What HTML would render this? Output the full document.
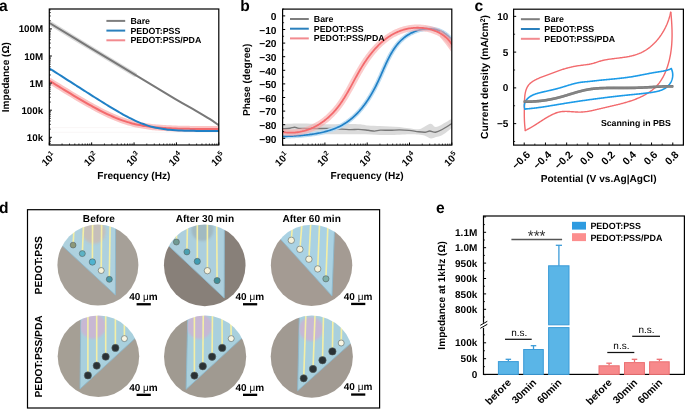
<!DOCTYPE html>
<html><head><meta charset="utf-8"><style>
html,body{margin:0;padding:0;background:#fff;}
svg{display:block;will-change:transform;}
text{font-family:"Liberation Sans",sans-serif;text-rendering:geometricPrecision;}
</style></head><body>
<svg width="685" height="409" viewBox="0 0 685 409">
<defs><filter id="blr" x="-50%" y="-50%" width="200%" height="200%"><feGaussianBlur stdDeviation="0.9"/></filter><filter id="blr1" x="-20%" y="-20%" width="140%" height="140%"><feGaussianBlur stdDeviation="0.4"/></filter><clipPath id="cl0"><circle cx="97.9" cy="265.0" r="40.5"/></clipPath><clipPath id="pr0"><polygon points="52.40,236.61 115.40,294.98 115.60,219.50 52.40,219.50"/></clipPath><clipPath id="cl1"><circle cx="204.75" cy="265.35" r="40.8"/></clipPath><clipPath id="pr1"><polygon points="158.95,236.68 224.20,297.94 224.40,219.55 158.95,219.55"/></clipPath><clipPath id="cl2"><circle cx="311.55" cy="265.35" r="40.7"/></clipPath><clipPath id="pr2"><polygon points="265.85,223.02 332.00,296.00 334.91,219.65 265.85,219.65"/></clipPath><clipPath id="cl3"><circle cx="98.45" cy="356.25" r="40.75"/></clipPath><clipPath id="pr3"><polygon points="80.89,310.50 144.20,310.50 144.20,329.97 79.99,388.94"/></clipPath><clipPath id="cl4"><circle cx="205.1" cy="356.6" r="41.1"/></clipPath><clipPath id="pr4"><polygon points="187.89,310.50 251.20,310.50 251.20,329.58 186.10,389.30"/></clipPath><clipPath id="cl5"><circle cx="311.8" cy="356.6" r="41.1"/></clipPath><clipPath id="pr5"><polygon points="299.39,310.50 357.90,310.50 357.90,336.92 297.64,390.78"/></clipPath><clipPath id="cpa"><rect x="49.3" y="9" width="169.5" height="136"/></clipPath><clipPath id="cpb"><rect x="282.6" y="9.1" width="169.2" height="136.0"/></clipPath><clipPath id="cpc"><rect x="513.6" y="9.2" width="169.8" height="135.9"/></clipPath></defs>
<text x="-1.00" y="10.80" font-size="15.6" text-anchor="start" font-weight="bold" fill="#000" >a</text>
<text x="240.30" y="10.80" font-size="15.6" text-anchor="start" font-weight="bold" fill="#000" >b</text>
<text x="474.40" y="10.80" font-size="15.6" text-anchor="start" font-weight="bold" fill="#000" >c</text>
<text x="-1.00" y="212.60" font-size="15.6" text-anchor="start" font-weight="bold" fill="#000" >d</text>
<text x="435.90" y="212.90" font-size="15.6" text-anchor="start" font-weight="bold" fill="#000" >e</text>
<g clip-path="url(#cpa)">
<line x1="50.00" y1="127.60" x2="218.50" y2="127.60" stroke="#f8f4f4" stroke-width="0.8" />
<line x1="50.00" y1="132.30" x2="218.50" y2="132.30" stroke="#f8f4f4" stroke-width="0.8" />
<path d="M49.50,23.00 C56.25,27.12 75.78,39.10 90.00,47.70 C104.22,56.30 127.33,70.12 134.80,74.60" stroke="#d6d6d6" stroke-width="4.5" fill="none" stroke-linejoin="round" stroke-linecap="round" opacity="0.9"/>
<path d="M49.50,23.00 C56.25,27.10 75.78,39.00 90.00,47.60 C104.22,56.20 120.63,66.07 134.80,74.60 C148.97,83.13 164.80,92.77 175.00,98.80 C185.20,104.83 190.17,107.40 196.00,110.80 C201.83,114.20 206.25,116.83 210.00,119.20 C213.75,121.57 217.08,124.03 218.50,125.00" stroke="#787878" stroke-width="2.0" fill="none" stroke-linejoin="round" stroke-linecap="round" />
<path d="M49.60,80.83 C50.10,81.14 51.60,82.07 52.60,82.69 C53.60,83.31 54.60,83.93 55.60,84.54 C56.60,85.16 57.60,85.78 58.60,86.39 C59.60,87.01 60.60,87.62 61.60,88.24 C62.60,88.85 63.60,89.46 64.60,90.07 C65.60,90.69 66.60,91.30 67.60,91.90 C68.60,92.51 69.60,93.12 70.60,93.72 C71.60,94.33 72.60,94.93 73.60,95.53 C74.60,96.13 75.60,96.73 76.60,97.32 C77.60,97.92 78.60,98.51 79.60,99.10 C80.60,99.69 81.60,100.28 82.60,100.86 C83.60,101.44 84.60,102.02 85.60,102.59 C86.60,103.17 87.60,103.74 88.60,104.31 C89.60,104.87 90.60,105.43 91.60,105.99 C92.60,106.54 93.60,107.09 94.60,107.64 C95.60,108.18 96.60,108.72 97.60,109.25 C98.60,109.78 99.60,110.30 100.60,110.81 C101.60,111.33 102.60,111.84 103.60,112.33 C104.60,112.83 105.60,113.32 106.60,113.80 C107.60,114.27 108.60,114.74 109.60,115.20 C110.60,115.66 111.60,116.10 112.60,116.54 C113.60,116.97 114.60,117.39 115.60,117.80 C116.60,118.21 117.60,118.61 118.60,119.00 C119.60,119.38 120.60,119.75 121.60,120.11 C122.60,120.47 123.60,120.81 124.60,121.14 C125.60,121.47 126.60,121.79 127.60,122.09 C128.60,122.40 129.60,122.68 130.60,122.96 C131.60,123.24 132.60,123.50 133.60,123.75 C134.60,123.99 135.60,124.23 136.60,124.45 C137.60,124.67 138.60,124.88 139.60,125.08 C140.60,125.28 141.60,125.47 142.60,125.64 C143.60,125.82 144.60,125.98 145.60,126.13 C146.60,126.29 147.60,126.43 148.60,126.56 C149.60,126.70 150.60,126.82 151.60,126.94 C152.60,127.06 153.60,127.16 154.60,127.26 C155.60,127.37 156.60,127.46 157.60,127.54 C158.60,127.63 159.60,127.71 160.60,127.79 C161.60,127.86 162.60,127.93 163.60,127.99 C164.60,128.06 165.60,128.11 166.60,128.17 C167.60,128.22 168.60,128.27 169.60,128.32 C170.60,128.36 171.60,128.41 172.60,128.44 C173.60,128.48 174.60,128.52 175.60,128.55 C176.60,128.59 177.60,128.62 178.60,128.64 C179.60,128.67 180.60,128.70 181.60,128.72 C182.60,128.74 183.60,128.77 184.60,128.79 C185.60,128.81 186.60,128.82 187.60,128.84 C188.60,128.86 189.60,128.87 190.60,128.89 C191.60,128.90 192.60,128.91 193.60,128.93 C194.60,128.94 195.60,128.95 196.60,128.96 C197.60,128.97 198.60,128.98 199.60,128.99 C200.60,128.99 201.60,129.00 202.60,129.01 C203.60,129.02 204.60,129.02 205.60,129.03 C206.60,129.03 207.60,129.04 208.60,129.04 C209.60,129.05 210.60,129.05 211.60,129.06 C212.60,129.06 213.60,129.07 214.60,129.07 C215.60,129.07 217.00,129.08 217.60,129.08 C218.20,129.08 218.10,129.08 218.20,129.08" stroke="#fbc4c4" stroke-width="6" fill="none" stroke-linejoin="round" stroke-linecap="round" />
<path d="M49.60,80.83 C50.10,81.14 51.60,82.07 52.60,82.69 C53.60,83.31 54.60,83.93 55.60,84.54 C56.60,85.16 57.60,85.78 58.60,86.39 C59.60,87.01 60.60,87.62 61.60,88.24 C62.60,88.85 63.60,89.46 64.60,90.07 C65.60,90.69 66.60,91.30 67.60,91.90 C68.60,92.51 69.60,93.12 70.60,93.72 C71.60,94.33 72.60,94.93 73.60,95.53 C74.60,96.13 75.60,96.73 76.60,97.32 C77.60,97.92 78.60,98.51 79.60,99.10 C80.60,99.69 81.60,100.28 82.60,100.86 C83.60,101.44 84.60,102.02 85.60,102.59 C86.60,103.17 87.60,103.74 88.60,104.31 C89.60,104.87 90.60,105.43 91.60,105.99 C92.60,106.54 93.60,107.09 94.60,107.64 C95.60,108.18 96.60,108.72 97.60,109.25 C98.60,109.78 99.60,110.30 100.60,110.81 C101.60,111.33 102.60,111.84 103.60,112.33 C104.60,112.83 105.60,113.32 106.60,113.80 C107.60,114.27 108.60,114.74 109.60,115.20 C110.60,115.66 111.60,116.10 112.60,116.54 C113.60,116.97 114.60,117.39 115.60,117.80 C116.60,118.21 117.60,118.61 118.60,119.00 C119.60,119.38 120.60,119.75 121.60,120.11 C122.60,120.47 123.60,120.81 124.60,121.14 C125.60,121.47 126.60,121.79 127.60,122.09 C128.60,122.40 129.60,122.68 130.60,122.96 C131.60,123.24 132.60,123.50 133.60,123.75 C134.60,123.99 135.60,124.23 136.60,124.45 C137.60,124.67 138.60,124.88 139.60,125.08 C140.60,125.28 141.60,125.47 142.60,125.64 C143.60,125.82 144.60,125.98 145.60,126.13 C146.60,126.29 147.60,126.43 148.60,126.56 C149.60,126.70 150.60,126.82 151.60,126.94 C152.60,127.06 153.60,127.16 154.60,127.26 C155.60,127.37 156.60,127.46 157.60,127.54 C158.60,127.63 159.60,127.71 160.60,127.79 C161.60,127.86 162.60,127.93 163.60,127.99 C164.60,128.06 165.60,128.11 166.60,128.17 C167.60,128.22 168.60,128.27 169.60,128.32 C170.60,128.36 171.60,128.41 172.60,128.44 C173.60,128.48 174.60,128.52 175.60,128.55 C176.60,128.59 177.60,128.62 178.60,128.64 C179.60,128.67 180.60,128.70 181.60,128.72 C182.60,128.74 183.60,128.77 184.60,128.79 C185.60,128.81 186.60,128.82 187.60,128.84 C188.60,128.86 189.60,128.87 190.60,128.89 C191.60,128.90 192.60,128.91 193.60,128.93 C194.60,128.94 195.60,128.95 196.60,128.96 C197.60,128.97 198.60,128.98 199.60,128.99 C200.60,128.99 201.60,129.00 202.60,129.01 C203.60,129.02 204.60,129.02 205.60,129.03 C206.60,129.03 207.60,129.04 208.60,129.04 C209.60,129.05 210.60,129.05 211.60,129.06 C212.60,129.06 213.60,129.07 214.60,129.07 C215.60,129.07 217.00,129.08 217.60,129.08 C218.20,129.08 218.10,129.08 218.20,129.08" stroke="#f36a6d" stroke-width="2" fill="none" stroke-linejoin="round" stroke-linecap="round" />
<path d="M49.60,68.51 C50.10,68.83 51.60,69.79 52.60,70.43 C53.60,71.07 54.60,71.71 55.60,72.35 C56.60,72.99 57.60,73.63 58.60,74.27 C59.60,74.92 60.60,75.56 61.60,76.20 C62.60,76.84 63.60,77.48 64.60,78.12 C65.60,78.76 66.60,79.40 67.60,80.04 C68.60,80.68 69.60,81.32 70.60,81.96 C71.60,82.60 72.60,83.24 73.60,83.88 C74.60,84.51 75.60,85.15 76.60,85.79 C77.60,86.43 78.60,87.07 79.60,87.71 C80.60,88.34 81.60,88.98 82.60,89.62 C83.60,90.26 84.60,90.89 85.60,91.53 C86.60,92.17 87.60,92.80 88.60,93.44 C89.60,94.07 90.60,94.70 91.60,95.34 C92.60,95.97 93.60,96.60 94.60,97.23 C95.60,97.86 96.60,98.49 97.60,99.12 C98.60,99.75 99.60,100.38 100.60,101.00 C101.60,101.63 102.60,102.25 103.60,102.87 C104.60,103.49 105.60,104.11 106.60,104.73 C107.60,105.34 108.60,105.96 109.60,106.56 C110.60,107.17 111.60,107.78 112.60,108.38 C113.60,108.98 114.60,109.58 115.60,110.17 C116.60,110.76 117.60,111.35 118.60,111.93 C119.60,112.50 120.60,113.08 121.60,113.64 C122.60,114.21 123.60,114.77 124.60,115.31 C125.60,115.86 126.60,116.40 127.60,116.93 C128.60,117.45 129.60,117.97 130.60,118.47 C131.60,118.98 132.60,119.47 133.60,119.94 C134.60,120.42 135.60,120.88 136.60,121.33 C137.60,121.77 138.60,122.20 139.60,122.62 C140.60,123.03 141.60,123.43 142.60,123.80 C143.60,124.18 144.60,124.54 145.60,124.88 C146.60,125.22 147.60,125.54 148.60,125.84 C149.60,126.14 150.60,126.43 151.60,126.69 C152.60,126.96 153.60,127.20 154.60,127.43 C155.60,127.66 156.60,127.87 157.60,128.07 C158.60,128.27 159.60,128.45 160.60,128.61 C161.60,128.78 162.60,128.93 163.60,129.07 C164.60,129.20 165.60,129.33 166.60,129.44 C167.60,129.56 168.60,129.66 169.60,129.76 C170.60,129.85 171.60,129.93 172.60,130.01 C173.60,130.09 174.60,130.16 175.60,130.22 C176.60,130.28 177.60,130.34 178.60,130.39 C179.60,130.44 180.60,130.48 181.60,130.52 C182.60,130.56 183.60,130.60 184.60,130.63 C185.60,130.66 186.60,130.69 187.60,130.72 C188.60,130.74 189.60,130.76 190.60,130.78 C191.60,130.81 192.60,130.82 193.60,130.84 C194.60,130.86 195.60,130.87 196.60,130.88 C197.60,130.90 198.60,130.91 199.60,130.92 C200.60,130.93 201.60,130.94 202.60,130.95 C203.60,130.95 204.60,130.96 205.60,130.97 C206.60,130.97 207.60,130.98 208.60,130.99 C209.60,130.99 210.60,130.99 211.60,131.00 C212.60,131.00 213.60,131.01 214.60,131.01 C215.60,131.01 217.00,131.02 217.60,131.02 C218.20,131.02 218.10,131.02 218.20,131.02" stroke="#2080c6" stroke-width="2.0" fill="none" stroke-linejoin="round" stroke-linecap="round" />
</g>
<line x1="106.40" y1="20.90" x2="125.20" y2="20.90" stroke="#7e7e7e" stroke-width="2" />
<text x="130.40" y="23.80" font-size="8.8" text-anchor="start" font-weight="bold" fill="#000" >Bare</text>
<line x1="106.40" y1="30.60" x2="125.20" y2="30.60" stroke="#2a80bd" stroke-width="2" />
<text x="130.40" y="33.50" font-size="8.8" text-anchor="start" font-weight="bold" fill="#000" >PEDOT:PSS</text>
<line x1="106.40" y1="40.30" x2="125.20" y2="40.30" stroke="#f28a8f" stroke-width="2" />
<text x="130.40" y="43.20" font-size="8.8" text-anchor="start" font-weight="bold" fill="#000" >PEDOT:PSS/PDA</text>
<rect x="49.3" y="9.0" width="169.5" height="136.0" fill="none" stroke="#000" stroke-width="1.2"/>
<line x1="49.30" y1="145.00" x2="49.30" y2="142.40" stroke="#000" stroke-width="1" />
<line x1="62.06" y1="145.00" x2="62.06" y2="143.50" stroke="#000" stroke-width="0.8" />
<line x1="69.52" y1="145.00" x2="69.52" y2="143.50" stroke="#000" stroke-width="0.8" />
<line x1="74.81" y1="145.00" x2="74.81" y2="143.50" stroke="#000" stroke-width="0.8" />
<line x1="78.92" y1="145.00" x2="78.92" y2="143.50" stroke="#000" stroke-width="0.8" />
<line x1="82.27" y1="145.00" x2="82.27" y2="143.50" stroke="#000" stroke-width="0.8" />
<line x1="85.11" y1="145.00" x2="85.11" y2="143.50" stroke="#000" stroke-width="0.8" />
<line x1="87.57" y1="145.00" x2="87.57" y2="143.50" stroke="#000" stroke-width="0.8" />
<line x1="89.74" y1="145.00" x2="89.74" y2="143.50" stroke="#000" stroke-width="0.8" />
<line x1="91.67" y1="145.00" x2="91.67" y2="142.40" stroke="#000" stroke-width="1" />
<line x1="104.43" y1="145.00" x2="104.43" y2="143.50" stroke="#000" stroke-width="0.8" />
<line x1="111.89" y1="145.00" x2="111.89" y2="143.50" stroke="#000" stroke-width="0.8" />
<line x1="117.19" y1="145.00" x2="117.19" y2="143.50" stroke="#000" stroke-width="0.8" />
<line x1="121.29" y1="145.00" x2="121.29" y2="143.50" stroke="#000" stroke-width="0.8" />
<line x1="124.65" y1="145.00" x2="124.65" y2="143.50" stroke="#000" stroke-width="0.8" />
<line x1="127.49" y1="145.00" x2="127.49" y2="143.50" stroke="#000" stroke-width="0.8" />
<line x1="129.94" y1="145.00" x2="129.94" y2="143.50" stroke="#000" stroke-width="0.8" />
<line x1="132.11" y1="145.00" x2="132.11" y2="143.50" stroke="#000" stroke-width="0.8" />
<line x1="134.05" y1="145.00" x2="134.05" y2="142.40" stroke="#000" stroke-width="1" />
<line x1="146.81" y1="145.00" x2="146.81" y2="143.50" stroke="#000" stroke-width="0.8" />
<line x1="154.27" y1="145.00" x2="154.27" y2="143.50" stroke="#000" stroke-width="0.8" />
<line x1="159.56" y1="145.00" x2="159.56" y2="143.50" stroke="#000" stroke-width="0.8" />
<line x1="163.67" y1="145.00" x2="163.67" y2="143.50" stroke="#000" stroke-width="0.8" />
<line x1="167.02" y1="145.00" x2="167.02" y2="143.50" stroke="#000" stroke-width="0.8" />
<line x1="169.86" y1="145.00" x2="169.86" y2="143.50" stroke="#000" stroke-width="0.8" />
<line x1="172.32" y1="145.00" x2="172.32" y2="143.50" stroke="#000" stroke-width="0.8" />
<line x1="174.49" y1="145.00" x2="174.49" y2="143.50" stroke="#000" stroke-width="0.8" />
<line x1="176.43" y1="145.00" x2="176.43" y2="142.40" stroke="#000" stroke-width="1" />
<line x1="189.18" y1="145.00" x2="189.18" y2="143.50" stroke="#000" stroke-width="0.8" />
<line x1="196.64" y1="145.00" x2="196.64" y2="143.50" stroke="#000" stroke-width="0.8" />
<line x1="201.94" y1="145.00" x2="201.94" y2="143.50" stroke="#000" stroke-width="0.8" />
<line x1="206.04" y1="145.00" x2="206.04" y2="143.50" stroke="#000" stroke-width="0.8" />
<line x1="209.40" y1="145.00" x2="209.40" y2="143.50" stroke="#000" stroke-width="0.8" />
<line x1="212.24" y1="145.00" x2="212.24" y2="143.50" stroke="#000" stroke-width="0.8" />
<line x1="214.69" y1="145.00" x2="214.69" y2="143.50" stroke="#000" stroke-width="0.8" />
<line x1="216.86" y1="145.00" x2="216.86" y2="143.50" stroke="#000" stroke-width="0.8" />
<line x1="218.80" y1="145.00" x2="218.80" y2="142.40" stroke="#000" stroke-width="1" />
<line x1="49.30" y1="143.31" x2="50.80" y2="143.31" stroke="#000" stroke-width="0.8" />
<line x1="49.30" y1="141.50" x2="50.80" y2="141.50" stroke="#000" stroke-width="0.8" />
<line x1="49.30" y1="139.93" x2="50.80" y2="139.93" stroke="#000" stroke-width="0.8" />
<line x1="49.30" y1="138.54" x2="50.80" y2="138.54" stroke="#000" stroke-width="0.8" />
<line x1="49.30" y1="137.30" x2="51.90" y2="137.30" stroke="#000" stroke-width="1" />
<line x1="49.30" y1="129.14" x2="50.80" y2="129.14" stroke="#000" stroke-width="0.8" />
<line x1="49.30" y1="124.37" x2="50.80" y2="124.37" stroke="#000" stroke-width="0.8" />
<line x1="49.30" y1="120.98" x2="50.80" y2="120.98" stroke="#000" stroke-width="0.8" />
<line x1="49.30" y1="118.36" x2="50.80" y2="118.36" stroke="#000" stroke-width="0.8" />
<line x1="49.30" y1="116.21" x2="50.80" y2="116.21" stroke="#000" stroke-width="0.8" />
<line x1="49.30" y1="114.40" x2="50.80" y2="114.40" stroke="#000" stroke-width="0.8" />
<line x1="49.30" y1="112.83" x2="50.80" y2="112.83" stroke="#000" stroke-width="0.8" />
<line x1="49.30" y1="111.44" x2="50.80" y2="111.44" stroke="#000" stroke-width="0.8" />
<line x1="49.30" y1="110.20" x2="51.90" y2="110.20" stroke="#000" stroke-width="1" />
<line x1="49.30" y1="102.04" x2="50.80" y2="102.04" stroke="#000" stroke-width="0.8" />
<line x1="49.30" y1="97.27" x2="50.80" y2="97.27" stroke="#000" stroke-width="0.8" />
<line x1="49.30" y1="93.88" x2="50.80" y2="93.88" stroke="#000" stroke-width="0.8" />
<line x1="49.30" y1="91.26" x2="50.80" y2="91.26" stroke="#000" stroke-width="0.8" />
<line x1="49.30" y1="89.11" x2="50.80" y2="89.11" stroke="#000" stroke-width="0.8" />
<line x1="49.30" y1="87.30" x2="50.80" y2="87.30" stroke="#000" stroke-width="0.8" />
<line x1="49.30" y1="85.73" x2="50.80" y2="85.73" stroke="#000" stroke-width="0.8" />
<line x1="49.30" y1="84.34" x2="50.80" y2="84.34" stroke="#000" stroke-width="0.8" />
<line x1="49.30" y1="83.10" x2="51.90" y2="83.10" stroke="#000" stroke-width="1" />
<line x1="49.30" y1="74.94" x2="50.80" y2="74.94" stroke="#000" stroke-width="0.8" />
<line x1="49.30" y1="70.17" x2="50.80" y2="70.17" stroke="#000" stroke-width="0.8" />
<line x1="49.30" y1="66.78" x2="50.80" y2="66.78" stroke="#000" stroke-width="0.8" />
<line x1="49.30" y1="64.16" x2="50.80" y2="64.16" stroke="#000" stroke-width="0.8" />
<line x1="49.30" y1="62.01" x2="50.80" y2="62.01" stroke="#000" stroke-width="0.8" />
<line x1="49.30" y1="60.20" x2="50.80" y2="60.20" stroke="#000" stroke-width="0.8" />
<line x1="49.30" y1="58.63" x2="50.80" y2="58.63" stroke="#000" stroke-width="0.8" />
<line x1="49.30" y1="57.24" x2="50.80" y2="57.24" stroke="#000" stroke-width="0.8" />
<line x1="49.30" y1="56.00" x2="51.90" y2="56.00" stroke="#000" stroke-width="1" />
<line x1="49.30" y1="47.84" x2="50.80" y2="47.84" stroke="#000" stroke-width="0.8" />
<line x1="49.30" y1="43.07" x2="50.80" y2="43.07" stroke="#000" stroke-width="0.8" />
<line x1="49.30" y1="39.68" x2="50.80" y2="39.68" stroke="#000" stroke-width="0.8" />
<line x1="49.30" y1="37.06" x2="50.80" y2="37.06" stroke="#000" stroke-width="0.8" />
<line x1="49.30" y1="34.91" x2="50.80" y2="34.91" stroke="#000" stroke-width="0.8" />
<line x1="49.30" y1="33.10" x2="50.80" y2="33.10" stroke="#000" stroke-width="0.8" />
<line x1="49.30" y1="31.53" x2="50.80" y2="31.53" stroke="#000" stroke-width="0.8" />
<line x1="49.30" y1="30.14" x2="50.80" y2="30.14" stroke="#000" stroke-width="0.8" />
<line x1="49.30" y1="28.90" x2="51.90" y2="28.90" stroke="#000" stroke-width="1" />
<line x1="49.30" y1="20.74" x2="50.80" y2="20.74" stroke="#000" stroke-width="0.8" />
<line x1="49.30" y1="15.97" x2="50.80" y2="15.97" stroke="#000" stroke-width="0.8" />
<line x1="49.30" y1="12.58" x2="50.80" y2="12.58" stroke="#000" stroke-width="0.8" />
<line x1="49.30" y1="9.96" x2="50.80" y2="9.96" stroke="#000" stroke-width="0.8" />
<text x="43.20" y="140.80" font-size="9.8" text-anchor="end" font-weight="bold" fill="#000" >10k</text>
<text x="43.20" y="113.70" font-size="9.8" text-anchor="end" font-weight="bold" fill="#000" >100k</text>
<text x="43.20" y="86.60" font-size="9.8" text-anchor="end" font-weight="bold" fill="#000" >1M</text>
<text x="43.20" y="59.50" font-size="9.8" text-anchor="end" font-weight="bold" fill="#000" >10M</text>
<text x="43.20" y="32.40" font-size="9.8" text-anchor="end" font-weight="bold" fill="#000" >100M</text>
<text transform="translate(56.30,156.20) rotate(-45)" font-size="10" text-anchor="end" font-weight="bold">10<tspan font-size="7.00" dy="-4">1</tspan></text>
<text transform="translate(98.67,156.20) rotate(-45)" font-size="10" text-anchor="end" font-weight="bold">10<tspan font-size="7.00" dy="-4">2</tspan></text>
<text transform="translate(141.05,156.20) rotate(-45)" font-size="10" text-anchor="end" font-weight="bold">10<tspan font-size="7.00" dy="-4">3</tspan></text>
<text transform="translate(183.43,156.20) rotate(-45)" font-size="10" text-anchor="end" font-weight="bold">10<tspan font-size="7.00" dy="-4">4</tspan></text>
<text transform="translate(225.80,156.20) rotate(-45)" font-size="10" text-anchor="end" font-weight="bold">10<tspan font-size="7.00" dy="-4">5</tspan></text>
<text x="133.90" y="179.40" font-size="10.15" text-anchor="middle" font-weight="bold" fill="#000" >Frequency (Hz)</text>
<text transform="translate(8.9,77.2) rotate(-90)" font-size="10.05" text-anchor="middle" font-weight="bold">Impedance (Ω)</text>
<g clip-path="url(#cpb)">
<path d="M282.60,124.00 C285.50,123.92 292.10,123.47 300.00,123.50 C307.90,123.53 320.33,124.08 330.00,124.20 C339.67,124.32 351.67,123.98 358.00,124.20 C364.33,124.42 364.33,125.20 368.00,125.50 C371.67,125.80 376.33,125.85 380.00,126.00 C383.67,126.15 386.75,126.23 390.00,126.40 C393.25,126.57 396.33,126.68 399.50,127.00 C402.67,127.32 405.83,127.92 409.00,128.30 C412.17,128.68 416.00,129.52 418.50,129.30 C421.00,129.08 421.95,127.92 424.00,127.00 C426.05,126.08 428.88,123.80 430.80,123.80 C432.72,123.80 433.63,126.88 435.50,127.00 C437.37,127.12 439.28,125.87 442.00,124.50 C444.72,123.13 450.17,119.75 451.80,118.80 L451.8,128 451.80,128.00 C450.17,129.22 444.63,133.80 442.00,135.30 C439.37,136.80 437.87,136.47 436.00,137.00 C434.13,137.53 432.63,138.70 430.80,138.50 C428.97,138.30 427.05,136.45 425.00,135.80 C422.95,135.15 421.17,134.87 418.50,134.60 C415.83,134.33 413.75,134.13 409.00,134.20 C404.25,134.27 394.83,134.87 390.00,135.00 C385.17,135.13 385.00,135.12 380.00,135.00 C375.00,134.88 368.33,134.43 360.00,134.30 C351.67,134.17 340.00,134.25 330.00,134.20 C320.00,134.15 307.90,134.03 300.00,134.00 C292.10,133.97 285.50,134.00 282.60,134.00 Z" fill="#d9d9d9" opacity="0.95"/>
<path d="M282.60,128.80 C283.83,128.70 287.98,128.47 290.00,128.20 C292.02,127.93 293.20,127.17 294.70,127.20 C296.20,127.23 296.45,128.18 299.00,128.40 C301.55,128.62 304.83,128.48 310.00,128.50 C315.17,128.52 323.50,128.32 330.00,128.50 C336.50,128.68 344.25,129.45 349.00,129.60 C353.75,129.75 355.33,129.28 358.50,129.40 C361.67,129.52 365.32,130.02 368.00,130.30 C370.68,130.58 372.55,131.13 374.60,131.10 C376.65,131.07 377.73,130.23 380.30,130.10 C382.87,129.97 386.80,130.33 390.00,130.30 C393.20,130.27 396.33,129.88 399.50,129.90 C402.67,129.92 405.83,130.08 409.00,130.40 C412.17,130.72 415.82,131.50 418.50,131.80 C421.18,132.10 423.22,132.33 425.10,132.20 C426.98,132.07 428.07,131.00 429.80,131.00 C431.53,131.00 433.43,132.45 435.50,132.20 C437.57,131.95 439.48,130.95 442.20,129.50 C444.92,128.05 450.20,124.50 451.80,123.50" stroke="#787878" stroke-width="1.4" fill="none" stroke-linejoin="round" stroke-linecap="round" />
<path d="M282.73,136.49 L283.77,136.44 L284.83,136.40 L285.89,136.35 L286.96,136.31 L288.04,136.26 L289.12,136.21 L290.21,136.16 L291.30,136.10 L292.40,136.04 L293.51,135.98 L294.62,135.92 L295.74,135.85 L296.86,135.77 L297.98,135.70 L299.10,135.61 L300.23,135.53 L301.36,135.43 L302.50,135.33 L303.63,135.23 L304.77,135.12 L305.91,135.00 L307.04,134.88 L308.18,134.74 L309.32,134.61 L310.46,134.46 L311.59,134.30 L312.73,134.14 L313.86,133.97 L315.00,133.78 L316.13,133.59 L317.25,133.39 L318.38,133.18 L319.50,132.96 L320.61,132.73 L321.73,132.49 L322.83,132.23 L323.94,131.97 L325.03,131.69 L326.13,131.40 L327.21,131.10 L328.29,130.79 L329.36,130.46 L330.43,130.12 L331.49,129.76 L332.54,129.40 L333.58,129.01 L334.61,128.62 L335.63,128.20 L336.65,127.78 L337.65,127.33 L338.65,126.88 L339.63,126.40 L340.60,125.91 L341.56,125.40 L342.51,124.88 L343.45,124.34 L344.38,123.78 L345.29,123.20 L346.20,122.61 L347.09,122.01 L347.97,121.38 L348.84,120.75 L349.70,120.10 L350.55,119.43 L351.39,118.75 L352.22,118.05 L353.04,117.34 L353.84,116.62 L354.64,115.88 L355.43,115.13 L356.20,114.37 L356.97,113.59 L357.73,112.81 L358.48,112.01 L359.22,111.20 L359.94,110.37 L360.66,109.54 L361.37,108.69 L362.08,107.84 L362.77,106.97 L363.45,106.09 L364.13,105.21 L364.79,104.31 L365.45,103.40 L366.10,102.49 L366.74,101.57 L367.37,100.63 L368.00,99.69 L368.61,98.74 L369.22,97.79 L369.82,96.82 L370.41,95.85 L371.00,94.87 L371.58,93.88 L372.15,92.89 L372.71,91.89 L373.27,90.89 L373.82,89.88 L374.36,88.86 L374.90,87.84 L375.43,86.81 L375.95,85.78 L376.46,84.75 L376.97,83.71 L377.48,82.67 L377.98,81.62 L378.47,80.57 L378.95,79.52 L379.44,78.46 L379.91,77.40 L380.39,76.35 L380.86,75.29 L381.33,74.23 L381.79,73.17 L382.26,72.11 L382.72,71.05 L383.19,69.99 L383.65,68.94 L384.12,67.89 L384.58,66.84 L385.05,65.80 L385.53,64.75 L386.00,63.72 L386.48,62.69 L386.97,61.66 L387.46,60.64 L387.95,59.63 L388.45,58.62 L388.96,57.63 L389.48,56.63 L390.00,55.65 L390.53,54.68 L391.07,53.72 L391.62,52.76 L392.18,51.82 L392.76,50.89 L393.34,49.97 L393.93,49.06 L394.54,48.16 L395.16,47.28 L395.80,46.41 L396.45,45.56 L397.11,44.71 L397.79,43.89 L398.49,43.08 L399.20,42.28 L399.93,41.50 L400.68,40.74 L401.44,40.00 L402.23,39.27 L403.03,38.56 L403.86,37.87 L404.70,37.20 L405.57,36.55 L406.46,35.92 L407.36,35.32 L408.29,34.73 L409.24,34.16 L410.21,33.62 L411.19,33.11 L412.19,32.62 L413.20,32.15 L414.23,31.71 L415.26,31.30 L416.31,30.91 L417.38,30.56 L418.45,30.23 L419.52,29.93 L420.61,29.67 L421.70,29.43 L422.80,29.23 L423.90,29.06 L425.00,28.93 L426.11,28.83 L427.21,28.77 L428.32,28.74 L429.43,28.75 L430.53,28.79 L431.63,28.88 L432.73,29.00 L433.82,29.17 L434.90,29.37 L435.97,29.62 L437.04,29.91 L438.10,30.24 L439.15,30.62 L440.18,31.04 L441.20,31.51 L442.21,32.02 L443.21,32.58 L444.18,33.18 L445.14,33.84 L446.09,34.54 L447.01,35.30 L447.91,36.10 L448.80,36.96 L449.66,37.87 L450.49,38.83 L451.30,39.84" stroke="#bcdcf2" stroke-width="4.5" fill="none" stroke-linejoin="round" stroke-linecap="round" />
<path d="M282.73,136.49 L283.77,136.44 L284.83,136.40 L285.89,136.35 L286.96,136.31 L288.04,136.26 L289.12,136.21 L290.21,136.16 L291.30,136.10 L292.40,136.04 L293.51,135.98 L294.62,135.92 L295.74,135.85 L296.86,135.77 L297.98,135.70 L299.10,135.61 L300.23,135.53 L301.36,135.43 L302.50,135.33 L303.63,135.23 L304.77,135.12 L305.91,135.00 L307.04,134.88 L308.18,134.74 L309.32,134.61 L310.46,134.46 L311.59,134.30 L312.73,134.14 L313.86,133.97 L315.00,133.78 L316.13,133.59 L317.25,133.39 L318.38,133.18 L319.50,132.96 L320.61,132.73 L321.73,132.49 L322.83,132.23 L323.94,131.97 L325.03,131.69 L326.13,131.40 L327.21,131.10 L328.29,130.79 L329.36,130.46 L330.43,130.12 L331.49,129.76 L332.54,129.40 L333.58,129.01 L334.61,128.62 L335.63,128.20 L336.65,127.78 L337.65,127.33 L338.65,126.88 L339.63,126.40 L340.60,125.91 L341.56,125.40 L342.51,124.88 L343.45,124.34 L344.38,123.78 L345.29,123.20 L346.20,122.61 L347.09,122.01 L347.97,121.38 L348.84,120.75 L349.70,120.10 L350.55,119.43 L351.39,118.75 L352.22,118.05 L353.04,117.34 L353.84,116.62 L354.64,115.88 L355.43,115.13 L356.20,114.37 L356.97,113.59 L357.73,112.81 L358.48,112.01 L359.22,111.20 L359.94,110.37 L360.66,109.54 L361.37,108.69 L362.08,107.84 L362.77,106.97 L363.45,106.09 L364.13,105.21 L364.79,104.31 L365.45,103.40 L366.10,102.49 L366.74,101.57 L367.37,100.63 L368.00,99.69 L368.61,98.74 L369.22,97.79 L369.82,96.82 L370.41,95.85 L371.00,94.87 L371.58,93.88 L372.15,92.89 L372.71,91.89 L373.27,90.89 L373.82,89.88 L374.36,88.86 L374.90,87.84 L375.43,86.81 L375.95,85.78 L376.46,84.75 L376.97,83.71 L377.48,82.67 L377.98,81.62 L378.47,80.57 L378.95,79.52 L379.44,78.46 L379.91,77.40 L380.39,76.35 L380.86,75.29 L381.33,74.23 L381.79,73.17 L382.26,72.11 L382.72,71.05 L383.19,69.99 L383.65,68.94 L384.12,67.89 L384.58,66.84 L385.05,65.80 L385.53,64.75 L386.00,63.72 L386.48,62.69 L386.97,61.66 L387.46,60.64 L387.95,59.63 L388.45,58.62 L388.96,57.63 L389.48,56.63 L390.00,55.65 L390.53,54.68 L391.07,53.72 L391.62,52.76 L392.18,51.82 L392.76,50.89 L393.34,49.97 L393.93,49.06 L394.54,48.16 L395.16,47.28 L395.80,46.41 L396.45,45.56 L397.11,44.71 L397.79,43.89 L398.49,43.08 L399.20,42.28 L399.93,41.50 L400.68,40.74 L401.44,40.00 L402.23,39.27 L403.03,38.56 L403.86,37.87 L404.70,37.20 L405.57,36.55 L406.46,35.92 L407.36,35.32 L408.29,34.73 L409.24,34.16 L410.21,33.62 L411.19,33.11 L412.19,32.62 L413.20,32.15 L414.23,31.71 L415.26,31.30 L416.31,30.91 L417.38,30.56 L418.45,30.23 L419.52,29.93 L420.61,29.67 L421.70,29.43 L422.80,29.23 L423.90,29.06 L425.00,28.93 L426.11,28.83 L427.21,28.77 L428.32,28.74 L429.43,28.75 L430.53,28.79 L431.63,28.88 L432.73,29.00 L433.82,29.17 L434.90,29.37 L435.97,29.62 L437.04,29.91 L438.10,30.24 L439.15,30.62 L440.18,31.04 L441.20,31.51 L442.21,32.02 L443.21,32.58 L444.18,33.18 L445.14,33.84 L446.09,34.54 L447.01,35.30 L447.91,36.10 L448.80,36.96 L449.66,37.87 L450.49,38.83 L451.30,39.84" stroke="#2080c6" stroke-width="1.7" fill="none" stroke-linejoin="round" stroke-linecap="round" />
<path d="M282.36,131.95 L283.55,132.14 L284.75,132.30 L285.94,132.43 L287.12,132.53 L288.29,132.61 L289.46,132.65 L290.62,132.67 L291.78,132.67 L292.93,132.63 L294.07,132.57 L295.20,132.49 L296.33,132.38 L297.45,132.24 L298.57,132.08 L299.67,131.90 L300.77,131.69 L301.86,131.46 L302.95,131.20 L304.02,130.93 L305.09,130.63 L306.15,130.30 L307.20,129.96 L308.24,129.60 L309.27,129.21 L310.30,128.80 L311.32,128.38 L312.32,127.93 L313.32,127.47 L314.31,126.98 L315.29,126.48 L316.26,125.96 L317.22,125.42 L318.17,124.86 L319.12,124.29 L320.05,123.70 L320.97,123.09 L321.88,122.47 L322.78,121.83 L323.68,121.18 L324.56,120.51 L325.43,119.83 L326.29,119.13 L327.13,118.42 L327.97,117.70 L328.80,116.96 L329.62,116.21 L330.42,115.45 L331.21,114.67 L331.99,113.89 L332.76,113.09 L333.52,112.28 L334.27,111.46 L335.00,110.64 L335.72,109.80 L336.43,108.95 L337.13,108.10 L337.82,107.23 L338.49,106.36 L339.15,105.48 L339.81,104.59 L340.45,103.69 L341.08,102.79 L341.71,101.88 L342.33,100.96 L342.93,100.04 L343.53,99.11 L344.13,98.17 L344.71,97.23 L345.29,96.28 L345.87,95.33 L346.43,94.37 L347.00,93.41 L347.56,92.45 L348.11,91.48 L348.66,90.51 L349.21,89.53 L349.75,88.56 L350.29,87.58 L350.83,86.59 L351.37,85.61 L351.90,84.62 L352.44,83.63 L352.98,82.64 L353.51,81.65 L354.05,80.66 L354.58,79.67 L355.12,78.68 L355.66,77.68 L356.21,76.69 L356.75,75.70 L357.30,74.71 L357.85,73.72 L358.41,72.74 L358.97,71.75 L359.53,70.77 L360.10,69.79 L360.68,68.81 L361.26,67.84 L361.85,66.87 L362.45,65.90 L363.05,64.94 L363.66,63.98 L364.28,63.02 L364.91,62.08 L365.54,61.13 L366.18,60.19 L366.83,59.26 L367.49,58.34 L368.15,57.42 L368.82,56.51 L369.50,55.60 L370.19,54.71 L370.89,53.82 L371.59,52.94 L372.30,52.07 L373.02,51.21 L373.75,50.36 L374.48,49.51 L375.23,48.68 L375.98,47.86 L376.74,47.05 L377.51,46.26 L378.29,45.47 L379.08,44.70 L379.87,43.93 L380.68,43.19 L381.49,42.45 L382.31,41.73 L383.14,41.02 L383.98,40.33 L384.83,39.65 L385.69,38.99 L386.55,38.34 L387.43,37.70 L388.31,37.09 L389.21,36.49 L390.11,35.90 L391.02,35.34 L391.94,34.79 L392.88,34.26 L393.82,33.74 L394.77,33.25 L395.73,32.77 L396.70,32.32 L397.68,31.88 L398.67,31.47 L399.67,31.07 L400.68,30.69 L401.70,30.34 L402.73,30.01 L403.77,29.70 L404.82,29.41 L405.88,29.14 L406.95,28.90 L408.03,28.67 L409.12,28.48 L410.22,28.30 L411.33,28.16 L412.45,28.03 L413.58,27.93 L414.71,27.85 L415.84,27.80 L416.98,27.77 L418.13,27.77 L419.27,27.79 L420.42,27.84 L421.56,27.91 L422.70,28.01 L423.84,28.14 L424.98,28.29 L426.12,28.46 L427.24,28.67 L428.36,28.90 L429.48,29.15 L430.58,29.43 L431.68,29.74 L432.77,30.08 L433.84,30.44 L434.90,30.83 L435.95,31.24 L436.98,31.69 L438.00,32.16 L439.00,32.66 L439.98,33.19 L440.94,33.75 L441.89,34.33 L442.81,34.94 L443.71,35.58 L444.59,36.25 L445.44,36.95 L446.27,37.68 L447.08,38.44 L447.85,39.23 L448.60,40.04 L449.32,40.89 L450.01,41.76 L450.67,42.67 L451.29,43.61 L451.89,44.57" stroke="#f9a9a9" stroke-width="6.5" fill="none" stroke-linejoin="round" stroke-linecap="round" opacity="0.6"/>
<path d="M440,30 Q447,36 451.5,39 L451.5,52 Q446,44 440,37 Z" fill="#f9a9a9" opacity="0.6"/>
<path d="M282.36,131.95 L283.55,132.14 L284.75,132.30 L285.94,132.43 L287.12,132.53 L288.29,132.61 L289.46,132.65 L290.62,132.67 L291.78,132.67 L292.93,132.63 L294.07,132.57 L295.20,132.49 L296.33,132.38 L297.45,132.24 L298.57,132.08 L299.67,131.90 L300.77,131.69 L301.86,131.46 L302.95,131.20 L304.02,130.93 L305.09,130.63 L306.15,130.30 L307.20,129.96 L308.24,129.60 L309.27,129.21 L310.30,128.80 L311.32,128.38 L312.32,127.93 L313.32,127.47 L314.31,126.98 L315.29,126.48 L316.26,125.96 L317.22,125.42 L318.17,124.86 L319.12,124.29 L320.05,123.70 L320.97,123.09 L321.88,122.47 L322.78,121.83 L323.68,121.18 L324.56,120.51 L325.43,119.83 L326.29,119.13 L327.13,118.42 L327.97,117.70 L328.80,116.96 L329.62,116.21 L330.42,115.45 L331.21,114.67 L331.99,113.89 L332.76,113.09 L333.52,112.28 L334.27,111.46 L335.00,110.64 L335.72,109.80 L336.43,108.95 L337.13,108.10 L337.82,107.23 L338.49,106.36 L339.15,105.48 L339.81,104.59 L340.45,103.69 L341.08,102.79 L341.71,101.88 L342.33,100.96 L342.93,100.04 L343.53,99.11 L344.13,98.17 L344.71,97.23 L345.29,96.28 L345.87,95.33 L346.43,94.37 L347.00,93.41 L347.56,92.45 L348.11,91.48 L348.66,90.51 L349.21,89.53 L349.75,88.56 L350.29,87.58 L350.83,86.59 L351.37,85.61 L351.90,84.62 L352.44,83.63 L352.98,82.64 L353.51,81.65 L354.05,80.66 L354.58,79.67 L355.12,78.68 L355.66,77.68 L356.21,76.69 L356.75,75.70 L357.30,74.71 L357.85,73.72 L358.41,72.74 L358.97,71.75 L359.53,70.77 L360.10,69.79 L360.68,68.81 L361.26,67.84 L361.85,66.87 L362.45,65.90 L363.05,64.94 L363.66,63.98 L364.28,63.02 L364.91,62.08 L365.54,61.13 L366.18,60.19 L366.83,59.26 L367.49,58.34 L368.15,57.42 L368.82,56.51 L369.50,55.60 L370.19,54.71 L370.89,53.82 L371.59,52.94 L372.30,52.07 L373.02,51.21 L373.75,50.36 L374.48,49.51 L375.23,48.68 L375.98,47.86 L376.74,47.05 L377.51,46.26 L378.29,45.47 L379.08,44.70 L379.87,43.93 L380.68,43.19 L381.49,42.45 L382.31,41.73 L383.14,41.02 L383.98,40.33 L384.83,39.65 L385.69,38.99 L386.55,38.34 L387.43,37.70 L388.31,37.09 L389.21,36.49 L390.11,35.90 L391.02,35.34 L391.94,34.79 L392.88,34.26 L393.82,33.74 L394.77,33.25 L395.73,32.77 L396.70,32.32 L397.68,31.88 L398.67,31.47 L399.67,31.07 L400.68,30.69 L401.70,30.34 L402.73,30.01 L403.77,29.70 L404.82,29.41 L405.88,29.14 L406.95,28.90 L408.03,28.67 L409.12,28.48 L410.22,28.30 L411.33,28.16 L412.45,28.03 L413.58,27.93 L414.71,27.85 L415.84,27.80 L416.98,27.77 L418.13,27.77 L419.27,27.79 L420.42,27.84 L421.56,27.91 L422.70,28.01 L423.84,28.14 L424.98,28.29 L426.12,28.46 L427.24,28.67 L428.36,28.90 L429.48,29.15 L430.58,29.43 L431.68,29.74 L432.77,30.08 L433.84,30.44 L434.90,30.83 L435.95,31.24 L436.98,31.69 L438.00,32.16 L439.00,32.66 L439.98,33.19 L440.94,33.75 L441.89,34.33 L442.81,34.94 L443.71,35.58 L444.59,36.25 L445.44,36.95 L446.27,37.68 L447.08,38.44 L447.85,39.23 L448.60,40.04 L449.32,40.89 L450.01,41.76 L450.67,42.67 L451.29,43.61 L451.89,44.57" stroke="#f36a6d" stroke-width="1.8" fill="none" stroke-linejoin="round" stroke-linecap="round" />
</g>
<line x1="290.00" y1="19.00" x2="308.80" y2="19.00" stroke="#7e7e7e" stroke-width="2" />
<text x="313.80" y="22.00" font-size="8.8" text-anchor="start" font-weight="bold" fill="#000" >Bare</text>
<line x1="290.00" y1="28.70" x2="308.80" y2="28.70" stroke="#2a80bd" stroke-width="2" />
<text x="313.80" y="31.70" font-size="8.8" text-anchor="start" font-weight="bold" fill="#000" >PEDOT:PSS</text>
<line x1="290.00" y1="38.40" x2="308.80" y2="38.40" stroke="#f28a8f" stroke-width="2" />
<text x="313.80" y="41.40" font-size="8.8" text-anchor="start" font-weight="bold" fill="#000" >PEDOT:PSS/PDA</text>
<rect x="282.6" y="9.1" width="169.2" height="136.0" fill="none" stroke="#000" stroke-width="1.2"/>
<line x1="282.60" y1="145.10" x2="282.60" y2="142.50" stroke="#000" stroke-width="1" />
<line x1="295.33" y1="145.10" x2="295.33" y2="143.60" stroke="#000" stroke-width="0.8" />
<line x1="302.78" y1="145.10" x2="302.78" y2="143.60" stroke="#000" stroke-width="0.8" />
<line x1="308.07" y1="145.10" x2="308.07" y2="143.60" stroke="#000" stroke-width="0.8" />
<line x1="312.17" y1="145.10" x2="312.17" y2="143.60" stroke="#000" stroke-width="0.8" />
<line x1="315.52" y1="145.10" x2="315.52" y2="143.60" stroke="#000" stroke-width="0.8" />
<line x1="318.35" y1="145.10" x2="318.35" y2="143.60" stroke="#000" stroke-width="0.8" />
<line x1="320.80" y1="145.10" x2="320.80" y2="143.60" stroke="#000" stroke-width="0.8" />
<line x1="322.96" y1="145.10" x2="322.96" y2="143.60" stroke="#000" stroke-width="0.8" />
<line x1="324.90" y1="145.10" x2="324.90" y2="142.50" stroke="#000" stroke-width="1" />
<line x1="337.63" y1="145.10" x2="337.63" y2="143.60" stroke="#000" stroke-width="0.8" />
<line x1="345.08" y1="145.10" x2="345.08" y2="143.60" stroke="#000" stroke-width="0.8" />
<line x1="350.37" y1="145.10" x2="350.37" y2="143.60" stroke="#000" stroke-width="0.8" />
<line x1="354.47" y1="145.10" x2="354.47" y2="143.60" stroke="#000" stroke-width="0.8" />
<line x1="357.82" y1="145.10" x2="357.82" y2="143.60" stroke="#000" stroke-width="0.8" />
<line x1="360.65" y1="145.10" x2="360.65" y2="143.60" stroke="#000" stroke-width="0.8" />
<line x1="363.10" y1="145.10" x2="363.10" y2="143.60" stroke="#000" stroke-width="0.8" />
<line x1="365.26" y1="145.10" x2="365.26" y2="143.60" stroke="#000" stroke-width="0.8" />
<line x1="367.20" y1="145.10" x2="367.20" y2="142.50" stroke="#000" stroke-width="1" />
<line x1="379.93" y1="145.10" x2="379.93" y2="143.60" stroke="#000" stroke-width="0.8" />
<line x1="387.38" y1="145.10" x2="387.38" y2="143.60" stroke="#000" stroke-width="0.8" />
<line x1="392.67" y1="145.10" x2="392.67" y2="143.60" stroke="#000" stroke-width="0.8" />
<line x1="396.77" y1="145.10" x2="396.77" y2="143.60" stroke="#000" stroke-width="0.8" />
<line x1="400.12" y1="145.10" x2="400.12" y2="143.60" stroke="#000" stroke-width="0.8" />
<line x1="402.95" y1="145.10" x2="402.95" y2="143.60" stroke="#000" stroke-width="0.8" />
<line x1="405.40" y1="145.10" x2="405.40" y2="143.60" stroke="#000" stroke-width="0.8" />
<line x1="407.56" y1="145.10" x2="407.56" y2="143.60" stroke="#000" stroke-width="0.8" />
<line x1="409.50" y1="145.10" x2="409.50" y2="142.50" stroke="#000" stroke-width="1" />
<line x1="422.23" y1="145.10" x2="422.23" y2="143.60" stroke="#000" stroke-width="0.8" />
<line x1="429.68" y1="145.10" x2="429.68" y2="143.60" stroke="#000" stroke-width="0.8" />
<line x1="434.97" y1="145.10" x2="434.97" y2="143.60" stroke="#000" stroke-width="0.8" />
<line x1="439.07" y1="145.10" x2="439.07" y2="143.60" stroke="#000" stroke-width="0.8" />
<line x1="442.42" y1="145.10" x2="442.42" y2="143.60" stroke="#000" stroke-width="0.8" />
<line x1="445.25" y1="145.10" x2="445.25" y2="143.60" stroke="#000" stroke-width="0.8" />
<line x1="447.70" y1="145.10" x2="447.70" y2="143.60" stroke="#000" stroke-width="0.8" />
<line x1="449.86" y1="145.10" x2="449.86" y2="143.60" stroke="#000" stroke-width="0.8" />
<line x1="451.80" y1="145.10" x2="451.80" y2="142.50" stroke="#000" stroke-width="1" />
<line x1="282.60" y1="145.10" x2="284.10" y2="145.10" stroke="#000" stroke-width="0.8" />
<line x1="282.60" y1="138.30" x2="285.20" y2="138.30" stroke="#000" stroke-width="1" />
<line x1="282.60" y1="131.50" x2="284.10" y2="131.50" stroke="#000" stroke-width="0.8" />
<line x1="282.60" y1="124.70" x2="285.20" y2="124.70" stroke="#000" stroke-width="1" />
<line x1="282.60" y1="117.90" x2="284.10" y2="117.90" stroke="#000" stroke-width="0.8" />
<line x1="282.60" y1="111.10" x2="285.20" y2="111.10" stroke="#000" stroke-width="1" />
<line x1="282.60" y1="104.30" x2="284.10" y2="104.30" stroke="#000" stroke-width="0.8" />
<line x1="282.60" y1="97.50" x2="285.20" y2="97.50" stroke="#000" stroke-width="1" />
<line x1="282.60" y1="90.70" x2="284.10" y2="90.70" stroke="#000" stroke-width="0.8" />
<line x1="282.60" y1="83.90" x2="285.20" y2="83.90" stroke="#000" stroke-width="1" />
<line x1="282.60" y1="77.10" x2="284.10" y2="77.10" stroke="#000" stroke-width="0.8" />
<line x1="282.60" y1="70.30" x2="285.20" y2="70.30" stroke="#000" stroke-width="1" />
<line x1="282.60" y1="63.50" x2="284.10" y2="63.50" stroke="#000" stroke-width="0.8" />
<line x1="282.60" y1="56.70" x2="285.20" y2="56.70" stroke="#000" stroke-width="1" />
<line x1="282.60" y1="49.90" x2="284.10" y2="49.90" stroke="#000" stroke-width="0.8" />
<line x1="282.60" y1="43.10" x2="285.20" y2="43.10" stroke="#000" stroke-width="1" />
<line x1="282.60" y1="36.30" x2="284.10" y2="36.30" stroke="#000" stroke-width="0.8" />
<line x1="282.60" y1="29.50" x2="285.20" y2="29.50" stroke="#000" stroke-width="1" />
<line x1="282.60" y1="22.70" x2="284.10" y2="22.70" stroke="#000" stroke-width="0.8" />
<line x1="282.60" y1="15.90" x2="285.20" y2="15.90" stroke="#000" stroke-width="1" />
<line x1="282.60" y1="9.10" x2="284.10" y2="9.10" stroke="#000" stroke-width="0.8" />
<text x="276.50" y="20.10" font-size="10.2" text-anchor="end" font-weight="bold" fill="#000" >0</text>
<text x="276.50" y="33.70" font-size="10.2" text-anchor="end" font-weight="bold" fill="#000" >−10</text>
<text x="276.50" y="47.30" font-size="10.2" text-anchor="end" font-weight="bold" fill="#000" >−20</text>
<text x="276.50" y="60.90" font-size="10.2" text-anchor="end" font-weight="bold" fill="#000" >−30</text>
<text x="276.50" y="74.50" font-size="10.2" text-anchor="end" font-weight="bold" fill="#000" >−40</text>
<text x="276.50" y="88.10" font-size="10.2" text-anchor="end" font-weight="bold" fill="#000" >−50</text>
<text x="276.50" y="101.70" font-size="10.2" text-anchor="end" font-weight="bold" fill="#000" >−60</text>
<text x="276.50" y="115.30" font-size="10.2" text-anchor="end" font-weight="bold" fill="#000" >−70</text>
<text x="276.50" y="128.90" font-size="10.2" text-anchor="end" font-weight="bold" fill="#000" >−80</text>
<text x="276.50" y="142.50" font-size="10.2" text-anchor="end" font-weight="bold" fill="#000" >−90</text>
<text transform="translate(289.60,156.30) rotate(-45)" font-size="10" text-anchor="end" font-weight="bold">10<tspan font-size="7.00" dy="-4">1</tspan></text>
<text transform="translate(331.90,156.30) rotate(-45)" font-size="10" text-anchor="end" font-weight="bold">10<tspan font-size="7.00" dy="-4">2</tspan></text>
<text transform="translate(374.20,156.30) rotate(-45)" font-size="10" text-anchor="end" font-weight="bold">10<tspan font-size="7.00" dy="-4">3</tspan></text>
<text transform="translate(416.50,156.30) rotate(-45)" font-size="10" text-anchor="end" font-weight="bold">10<tspan font-size="7.00" dy="-4">4</tspan></text>
<text transform="translate(458.80,156.30) rotate(-45)" font-size="10" text-anchor="end" font-weight="bold">10<tspan font-size="7.00" dy="-4">5</tspan></text>
<text x="367.10" y="179.40" font-size="10.15" text-anchor="middle" font-weight="bold" fill="#000" >Frequency (Hz)</text>
<text transform="translate(249.6,79.9) rotate(-90)" font-size="10.1" text-anchor="middle" font-weight="bold">Phase (degree)</text>
<g clip-path="url(#cpc)">
<path d="M525.30,130.54 L525.20,129.80 L525.11,129.06 L525.03,128.33 L524.95,127.60 L524.87,126.87 L524.81,126.14 L524.74,125.42 L524.68,124.70 L524.63,123.98 L524.58,123.26 L524.54,122.54 L524.50,121.83 L524.46,121.12 L524.43,120.40 L524.40,119.69 L524.38,118.98 L524.36,118.27 L524.34,117.56 L524.33,116.85 L524.31,116.14 L524.31,115.43 L524.30,114.72 L524.30,114.00 L524.30,113.29 L524.30,112.58 L524.30,111.86 L524.31,111.14 L524.31,110.43 L524.32,109.71 L524.33,108.98 L524.34,108.26 L524.36,107.53 L524.37,106.81 L524.38,106.07 L524.40,105.34 L524.41,104.60 L524.43,103.86 L524.44,103.12 L524.46,102.37 L524.48,101.62 L524.51,100.87 L524.53,100.12 L524.57,99.38 L524.61,98.63 L524.66,97.88 L524.72,97.14 L524.79,96.40 L524.86,95.67 L524.96,94.94 L525.06,94.22 L525.18,93.50 L525.31,92.80 L525.46,92.10 L525.63,91.41 L525.82,90.73 L526.03,90.06 L526.25,89.40 L526.50,88.75 L526.77,88.12 L527.07,87.50 L527.39,86.90 L527.73,86.31 L528.11,85.74 L528.51,85.18 L528.94,84.64 L529.40,84.12 L529.89,83.62 L530.42,83.14 L530.97,82.68 L531.54,82.23 L532.14,81.80 L532.75,81.39 L533.38,80.99 L534.03,80.61 L534.69,80.24 L535.36,79.89 L536.04,79.54 L536.71,79.21 L537.40,78.89 L538.08,78.58 L538.76,78.27 L539.44,77.98 L540.13,77.69 L540.81,77.41 L541.49,77.14 L542.17,76.87 L542.86,76.61 L543.54,76.35 L544.22,76.10 L544.90,75.85 L545.58,75.60 L546.26,75.35 L546.94,75.10 L547.62,74.84 L548.29,74.59 L548.97,74.34 L549.64,74.09 L550.31,73.83 L550.99,73.57 L551.66,73.32 L552.33,73.06 L553.00,72.80 L553.67,72.55 L554.34,72.29 L555.01,72.04 L555.68,71.79 L556.35,71.54 L557.03,71.29 L557.70,71.05 L558.38,70.81 L559.06,70.57 L559.74,70.34 L560.42,70.11 L561.11,69.88 L561.80,69.66 L562.49,69.44 L563.18,69.23 L563.87,69.02 L564.56,68.81 L565.26,68.61 L565.95,68.41 L566.65,68.22 L567.35,68.03 L568.05,67.85 L568.76,67.67 L569.46,67.50 L570.17,67.33 L570.87,67.16 L571.58,67.00 L572.29,66.84 L573.00,66.69 L573.71,66.55 L574.43,66.41 L575.14,66.27 L575.85,66.14 L576.57,66.02 L577.28,65.90 L578.00,65.78 L578.72,65.67 L579.44,65.57 L580.16,65.47 L580.87,65.37 L581.59,65.28 L582.31,65.19 L583.03,65.11 L583.75,65.02 L584.47,64.93 L585.19,64.84 L585.91,64.75 L586.62,64.65 L587.34,64.55 L588.05,64.44 L588.76,64.32 L589.47,64.19 L590.18,64.06 L590.88,63.91 L591.59,63.75 L592.29,63.58 L592.98,63.39 L593.68,63.20 L594.37,62.99 L595.06,62.78 L595.75,62.56 L596.44,62.33 L597.13,62.11 L597.82,61.88 L598.50,61.66 L599.19,61.44 L599.88,61.22 L600.56,61.02 L601.25,60.82 L601.94,60.63 L602.63,60.45 L603.32,60.29 L604.02,60.13 L604.71,59.99 L605.41,59.85 L606.11,59.72 L606.81,59.60 L607.51,59.49 L608.22,59.38 L608.93,59.27 L609.64,59.17 L610.36,59.07 L611.07,58.97 L611.79,58.88 L612.51,58.78 L613.23,58.69 L613.96,58.60 L614.68,58.52 L615.41,58.43 L616.13,58.34 L616.86,58.25 L617.59,58.17 L618.32,58.08 L619.05,57.99 L619.78,57.90 L620.50,57.81 L621.23,57.71 L621.96,57.62 L622.69,57.52 L623.41,57.42 L624.14,57.31 L624.86,57.20 L625.59,57.09 L626.31,56.97 L627.03,56.85 L627.74,56.72 L628.46,56.58 L629.17,56.45 L629.89,56.30 L630.59,56.15 L631.30,55.99 L632.00,55.82 L632.70,55.65 L633.40,55.47 L634.09,55.28 L634.78,55.08 L635.47,54.87 L636.15,54.65 L636.83,54.43 L637.50,54.19 L638.17,53.94 L638.84,53.69 L639.50,53.42 L640.15,53.14 L640.80,52.85 L641.45,52.54 L642.09,52.23 L642.72,51.90 L643.35,51.57 L643.98,51.22 L644.60,50.86 L645.21,50.49 L645.82,50.11 L646.42,49.73 L647.01,49.33 L647.60,48.92 L648.19,48.50 L648.77,48.07 L649.34,47.64 L649.91,47.19 L650.47,46.74 L651.02,46.27 L651.57,45.80 L652.12,45.32 L652.65,44.83 L653.18,44.33 L653.71,43.83 L654.22,43.32 L654.74,42.80 L655.24,42.27 L655.74,41.74 L656.23,41.19 L656.71,40.65 L657.19,40.09 L657.66,39.53 L658.13,38.96 L658.59,38.39 L659.04,37.81 L659.48,37.22 L659.92,36.63 L660.35,36.03 L660.77,35.43 L661.19,34.82 L661.59,34.21 L661.99,33.59 L662.39,32.97 L662.77,32.34 L663.15,31.71 L663.52,31.08 L663.89,30.44 L664.24,29.80 L664.59,29.15 L664.93,28.50 L665.26,27.85 L665.59,27.19 L665.90,26.53 L666.21,25.87 L666.51,25.21 L666.81,24.54 L667.09,23.87 L667.37,23.20 L667.63,22.53 L667.89,21.86 L668.14,21.18 L668.39,20.50 L668.62,19.83 L668.85,19.15 L669.06,18.47 L669.27,17.78 L669.47,17.10 L669.66,16.42 L669.85,15.74 L670.02,15.06 L670.18,14.38 L670.34,13.69 L670.49,13.01 L670.62,12.33" stroke="#f26a6d" stroke-width="1.4" fill="none" stroke-linejoin="round" stroke-linecap="round" />
<path d="M670.86,12.27 L670.93,13.00 L671.00,13.74 L671.06,14.47 L671.13,15.20 L671.19,15.94 L671.25,16.67 L671.31,17.40 L671.37,18.14 L671.42,18.87 L671.48,19.60 L671.53,20.34 L671.58,21.07 L671.63,21.80 L671.67,22.54 L671.72,23.27 L671.76,24.00 L671.80,24.74 L671.84,25.47 L671.87,26.20 L671.91,26.94 L671.94,27.67 L671.96,28.40 L671.99,29.14 L672.01,29.87 L672.03,30.60 L672.04,31.33 L672.05,32.06 L672.06,32.80 L672.07,33.53 L672.07,34.26 L672.07,34.99 L672.07,35.72 L672.06,36.45 L672.05,37.18 L672.03,37.91 L672.01,38.64 L671.99,39.37 L671.96,40.10 L671.93,40.83 L671.89,41.56 L671.85,42.28 L671.81,43.01 L671.76,43.74 L671.71,44.46 L671.65,45.19 L671.59,45.92 L671.52,46.64 L671.45,47.36 L671.37,48.09 L671.29,48.81 L671.21,49.53 L671.12,50.26 L671.02,50.98 L670.92,51.70 L670.81,52.42 L670.70,53.14 L670.58,53.86 L670.46,54.58 L670.33,55.30 L670.19,56.01 L670.05,56.73 L669.90,57.44 L669.75,58.16 L669.59,58.87 L669.43,59.59 L669.26,60.30 L669.08,61.01 L668.90,61.72 L668.71,62.43 L668.51,63.14 L668.31,63.85 L668.10,64.56 L667.88,65.26 L667.66,65.97 L667.43,66.68 L667.19,67.38 L666.95,68.08 L666.70,68.78 L666.44,69.48 L666.17,70.18 L665.90,70.87 L665.62,71.56 L665.33,72.24 L665.03,72.93 L664.72,73.61 L664.41,74.28 L664.09,74.95 L663.76,75.61 L663.42,76.27 L663.08,76.93 L662.72,77.58 L662.36,78.22 L661.98,78.85 L661.60,79.48 L661.21,80.10 L660.81,80.71 L660.40,81.32 L659.98,81.92 L659.55,82.51 L659.12,83.09 L658.67,83.66 L658.21,84.22 L657.74,84.77 L657.27,85.31 L656.78,85.85 L656.28,86.37 L655.78,86.88 L655.26,87.39 L654.74,87.88 L654.21,88.37 L653.67,88.84 L653.12,89.31 L652.56,89.77 L652.00,90.22 L651.42,90.66 L650.85,91.09 L650.26,91.52 L649.67,91.94 L649.07,92.34 L648.46,92.75 L647.85,93.14 L647.23,93.52 L646.60,93.90 L645.97,94.27 L645.34,94.64 L644.70,94.99 L644.05,95.34 L643.40,95.68 L642.75,96.02 L642.09,96.35 L641.43,96.67 L640.76,96.98 L640.09,97.29 L639.42,97.59 L638.74,97.89 L638.06,98.18 L637.38,98.47 L636.69,98.75 L636.00,99.02 L635.31,99.29 L634.62,99.55 L633.93,99.81 L633.24,100.06 L632.54,100.31 L631.84,100.55 L631.15,100.79 L630.45,101.02 L629.75,101.25 L629.05,101.47 L628.35,101.69 L627.64,101.91 L626.94,102.12 L626.24,102.33 L625.53,102.53 L624.83,102.73 L624.12,102.93 L623.42,103.13 L622.71,103.32 L622.00,103.51 L621.30,103.69 L620.59,103.88 L619.88,104.06 L619.17,104.24 L618.46,104.41 L617.75,104.59 L617.04,104.76 L616.33,104.93 L615.62,105.10 L614.91,105.27 L614.20,105.44 L613.49,105.61 L612.78,105.77 L612.07,105.93 L611.35,106.10 L610.64,106.26 L609.93,106.42 L609.22,106.59 L608.51,106.75 L607.79,106.91 L607.08,107.07 L606.37,107.24 L605.66,107.40 L604.95,107.56 L604.24,107.73 L603.52,107.89 L602.81,108.06 L602.10,108.23 L601.39,108.40 L600.68,108.57 L599.97,108.74 L599.26,108.91 L598.55,109.09 L597.84,109.26 L597.13,109.43 L596.42,109.60 L595.71,109.77 L595.00,109.93 L594.29,110.09 L593.58,110.25 L592.87,110.41 L592.16,110.56 L591.44,110.71 L590.73,110.85 L590.01,110.99 L589.30,111.12 L588.58,111.25 L587.87,111.36 L587.15,111.48 L586.43,111.58 L585.71,111.67 L584.98,111.76 L584.26,111.84 L583.54,111.91 L582.81,111.97 L582.08,112.02 L581.35,112.05 L580.62,112.08 L579.89,112.09 L579.15,112.10 L578.42,112.09 L577.68,112.07 L576.94,112.04 L576.20,112.00 L575.46,111.96 L574.72,111.92 L573.97,111.87 L573.23,111.81 L572.49,111.76 L571.75,111.70 L571.01,111.65 L570.26,111.60 L569.52,111.55 L568.79,111.51 L568.05,111.47 L567.31,111.44 L566.58,111.42 L565.85,111.41 L565.12,111.42 L564.39,111.43 L563.66,111.46 L562.94,111.50 L562.22,111.56 L561.51,111.64 L560.80,111.73 L560.09,111.85 L559.39,111.99 L558.69,112.15 L557.99,112.33 L557.30,112.53 L556.61,112.75 L555.93,113.00 L555.25,113.25 L554.58,113.53 L553.90,113.82 L553.24,114.12 L552.57,114.43 L551.91,114.75 L551.26,115.08 L550.61,115.41 L549.96,115.76 L549.31,116.11 L548.67,116.46 L548.03,116.83 L547.39,117.20 L546.75,117.57 L546.12,117.95 L545.49,118.33 L544.86,118.72 L544.23,119.11 L543.60,119.50 L542.98,119.89 L542.36,120.29 L541.74,120.69 L541.11,121.09 L540.49,121.49 L539.87,121.90 L539.25,122.30 L538.64,122.70 L538.02,123.11 L537.40,123.51 L536.78,123.91 L536.16,124.31 L535.54,124.71 L534.92,125.10 L534.29,125.49 L533.67,125.88 L533.05,126.26 L532.42,126.64 L531.79,127.02 L531.16,127.39 L530.53,127.76 L529.90,128.12 L529.26,128.47 L528.62,128.82 L527.98,129.16 L527.34,129.49 L526.69,129.82 L526.04,130.13 L525.39,130.44" stroke="#f26a6d" stroke-width="1.4" fill="none" stroke-linejoin="round" stroke-linecap="round" />
<path d="M524.99,109.18 L524.79,108.60 L524.62,108.03 L524.49,107.46 L524.40,106.90 L524.35,106.35 L524.33,105.81 L524.34,105.27 L524.39,104.74 L524.47,104.22 L524.58,103.71 L524.71,103.21 L524.88,102.72 L525.07,102.24 L525.28,101.77 L525.52,101.31 L525.78,100.86 L526.06,100.43 L526.36,100.01 L526.68,99.60 L527.01,99.20 L527.36,98.82 L527.72,98.45 L528.10,98.10 L528.48,97.76 L528.88,97.43 L529.29,97.11 L529.71,96.81 L530.14,96.52 L530.58,96.25 L531.03,95.98 L531.49,95.73 L531.95,95.48 L532.43,95.25 L532.91,95.03 L533.40,94.81 L533.89,94.60 L534.39,94.41 L534.90,94.22 L535.41,94.03 L535.93,93.86 L536.45,93.69 L536.97,93.53 L537.50,93.37 L538.03,93.22 L538.56,93.07 L539.09,92.93 L539.62,92.79 L540.16,92.66 L540.70,92.52 L541.23,92.39 L541.77,92.27 L542.30,92.14 L542.83,92.02 L543.36,91.90 L543.89,91.77 L544.42,91.65 L544.94,91.53 L545.47,91.41 L545.99,91.29 L546.51,91.18 L547.03,91.06 L547.55,90.94 L548.07,90.82 L548.59,90.70 L549.10,90.59 L549.62,90.47 L550.13,90.35 L550.64,90.23 L551.16,90.11 L551.67,89.99 L552.18,89.87 L552.69,89.75 L553.20,89.63 L553.70,89.50 L554.21,89.38 L554.72,89.25 L555.23,89.13 L555.73,89.00 L556.24,88.87 L556.75,88.74 L557.25,88.61 L557.76,88.47 L558.27,88.33 L558.77,88.19 L559.28,88.05 L559.79,87.91 L560.29,87.76 L560.80,87.62 L561.31,87.47 L561.82,87.31 L562.32,87.16 L562.83,87.01 L563.34,86.85 L563.85,86.69 L564.36,86.54 L564.87,86.38 L565.38,86.22 L565.89,86.06 L566.40,85.90 L566.91,85.74 L567.42,85.58 L567.94,85.43 L568.45,85.27 L568.96,85.11 L569.47,84.96 L569.99,84.81 L570.50,84.65 L571.02,84.50 L571.53,84.36 L572.05,84.21 L572.57,84.07 L573.08,83.93 L573.60,83.79 L574.12,83.66 L574.64,83.53 L575.16,83.40 L575.68,83.28 L576.20,83.16 L576.72,83.05 L577.24,82.94 L577.76,82.83 L578.29,82.73 L578.81,82.63 L579.34,82.54 L579.86,82.46 L580.39,82.38 L580.91,82.30 L581.44,82.23 L581.97,82.16 L582.50,82.10 L583.03,82.04 L583.56,81.98 L584.09,81.93 L584.62,81.87 L585.15,81.82 L585.68,81.77 L586.21,81.72 L586.74,81.68 L587.27,81.63 L587.80,81.58 L588.33,81.53 L588.86,81.48 L589.39,81.42 L589.92,81.37 L590.45,81.32 L590.98,81.26 L591.51,81.20 L592.04,81.15 L592.56,81.09 L593.09,81.03 L593.62,80.97 L594.15,80.91 L594.68,80.86 L595.21,80.80 L595.74,80.74 L596.27,80.68 L596.80,80.62 L597.33,80.56 L597.86,80.50 L598.38,80.44 L598.91,80.39 L599.44,80.33 L599.97,80.27 L600.50,80.22 L601.03,80.16 L601.56,80.11 L602.09,80.06 L602.62,80.00 L603.15,79.95 L603.68,79.90 L604.21,79.84 L604.74,79.79 L605.27,79.74 L605.80,79.69 L606.33,79.64 L606.86,79.59 L607.39,79.54 L607.92,79.49 L608.45,79.44 L608.98,79.39 L609.51,79.34 L610.04,79.29 L610.57,79.24 L611.10,79.19 L611.63,79.14 L612.16,79.09 L612.69,79.04 L613.22,78.99 L613.75,78.93 L614.28,78.88 L614.81,78.83 L615.34,78.78 L615.87,78.73 L616.40,78.67 L616.93,78.62 L617.46,78.56 L617.99,78.51 L618.51,78.45 L619.04,78.40 L619.57,78.34 L620.10,78.28 L620.63,78.22 L621.16,78.17 L621.69,78.11 L622.22,78.04 L622.75,77.98 L623.27,77.92 L623.80,77.86 L624.33,77.79 L624.86,77.73 L625.39,77.66 L625.91,77.59 L626.44,77.52 L626.97,77.45 L627.50,77.38 L628.02,77.31 L628.55,77.23 L629.08,77.16 L629.60,77.08 L630.13,77.00 L630.65,76.92 L631.18,76.84 L631.71,76.76 L632.23,76.67 L632.76,76.59 L633.28,76.50 L633.81,76.41 L634.33,76.32 L634.86,76.23 L635.38,76.13 L635.90,76.04 L636.43,75.95 L636.95,75.85 L637.48,75.75 L638.00,75.65 L638.52,75.55 L639.05,75.45 L639.57,75.35 L640.09,75.25 L640.62,75.15 L641.14,75.05 L641.66,74.95 L642.19,74.84 L642.71,74.74 L643.23,74.64 L643.76,74.53 L644.28,74.43 L644.80,74.33 L645.33,74.22 L645.85,74.12 L646.37,74.02 L646.90,73.92 L647.42,73.81 L647.95,73.71 L648.47,73.61 L648.99,73.51 L649.52,73.41 L650.04,73.31 L650.57,73.21 L651.09,73.12 L651.62,73.02 L652.14,72.92 L652.67,72.83 L653.19,72.74 L653.72,72.65 L654.24,72.56 L654.77,72.47 L655.29,72.38 L655.82,72.29 L656.35,72.21 L656.87,72.13 L657.40,72.05 L657.93,71.97 L658.46,71.89 L658.98,71.81 L659.51,71.73 L660.04,71.65 L660.56,71.56 L661.09,71.48 L661.61,71.39 L662.14,71.30 L662.66,71.21 L663.18,71.12 L663.70,71.01 L664.22,70.91 L664.74,70.80 L665.26,70.68 L665.77,70.55 L666.29,70.42 L666.80,70.28 L667.31,70.14 L667.82,69.98 L668.32,69.82 L668.83,69.64 L669.33,69.46 L669.83,69.27 L670.32,69.06 L670.82,68.84 L671.31,68.61" stroke="#1c9be8" stroke-width="1.6" fill="none" stroke-linejoin="round" stroke-linecap="round" />
<path d="M671.23,68.48 L671.49,69.04 L671.72,69.61 L671.93,70.17 L672.12,70.74 L672.27,71.31 L672.41,71.88 L672.52,72.44 L672.60,73.01 L672.67,73.57 L672.71,74.14 L672.73,74.70 L672.72,75.25 L672.70,75.81 L672.65,76.36 L672.59,76.90 L672.50,77.44 L672.40,77.98 L672.27,78.51 L672.13,79.04 L671.97,79.56 L671.79,80.07 L671.59,80.58 L671.38,81.07 L671.15,81.56 L670.90,82.05 L670.64,82.52 L670.37,82.98 L670.07,83.44 L669.77,83.88 L669.45,84.31 L669.11,84.74 L668.77,85.15 L668.41,85.55 L668.04,85.93 L667.65,86.31 L667.26,86.67 L666.85,87.02 L666.44,87.35 L666.01,87.67 L665.58,87.98 L665.13,88.27 L664.68,88.55 L664.22,88.81 L663.75,89.07 L663.27,89.31 L662.78,89.54 L662.29,89.76 L661.79,89.96 L661.28,90.16 L660.77,90.35 L660.25,90.53 L659.73,90.70 L659.20,90.86 L658.67,91.01 L658.13,91.15 L657.59,91.29 L657.05,91.42 L656.50,91.54 L655.95,91.66 L655.40,91.77 L654.84,91.88 L654.28,91.98 L653.73,92.08 L653.17,92.17 L652.61,92.26 L652.05,92.35 L651.49,92.43 L650.93,92.51 L650.37,92.59 L649.81,92.67 L649.26,92.74 L648.70,92.82 L648.15,92.89 L647.59,92.96 L647.04,93.03 L646.49,93.10 L645.93,93.16 L645.38,93.23 L644.83,93.29 L644.28,93.36 L643.73,93.42 L643.19,93.48 L642.64,93.54 L642.09,93.60 L641.54,93.66 L641.00,93.72 L640.45,93.77 L639.91,93.83 L639.36,93.88 L638.82,93.94 L638.27,94.00 L637.73,94.05 L637.18,94.10 L636.64,94.16 L636.10,94.21 L635.55,94.26 L635.01,94.32 L634.47,94.37 L633.92,94.43 L633.38,94.48 L632.84,94.53 L632.29,94.59 L631.75,94.64 L631.21,94.69 L630.66,94.75 L630.12,94.80 L629.58,94.86 L629.03,94.92 L628.49,94.97 L627.95,95.03 L627.40,95.08 L626.86,95.14 L626.31,95.20 L625.77,95.26 L625.22,95.31 L624.68,95.37 L624.14,95.43 L623.59,95.49 L623.05,95.55 L622.50,95.61 L621.96,95.66 L621.41,95.72 L620.87,95.78 L620.32,95.84 L619.78,95.90 L619.23,95.97 L618.69,96.03 L618.14,96.09 L617.60,96.15 L617.05,96.21 L616.51,96.27 L615.96,96.34 L615.41,96.40 L614.87,96.46 L614.32,96.53 L613.78,96.59 L613.23,96.65 L612.69,96.72 L612.14,96.78 L611.59,96.85 L611.05,96.91 L610.50,96.98 L609.96,97.04 L609.41,97.11 L608.87,97.17 L608.32,97.24 L607.77,97.31 L607.23,97.37 L606.68,97.44 L606.14,97.51 L605.59,97.58 L605.04,97.64 L604.50,97.71 L603.95,97.78 L603.41,97.85 L602.86,97.92 L602.31,97.99 L601.77,98.06 L601.22,98.13 L600.67,98.20 L600.13,98.27 L599.58,98.34 L599.04,98.41 L598.49,98.48 L597.94,98.55 L597.40,98.62 L596.85,98.70 L596.31,98.77 L595.76,98.84 L595.21,98.91 L594.67,98.99 L594.12,99.06 L593.58,99.13 L593.03,99.21 L592.48,99.28 L591.94,99.36 L591.39,99.43 L590.85,99.51 L590.30,99.58 L589.75,99.66 L589.21,99.73 L588.66,99.81 L588.12,99.88 L587.57,99.96 L587.02,100.04 L586.48,100.12 L585.93,100.19 L585.39,100.27 L584.84,100.35 L584.30,100.43 L583.75,100.50 L583.21,100.58 L582.66,100.66 L582.12,100.74 L581.57,100.82 L581.03,100.90 L580.48,100.98 L579.93,101.06 L579.39,101.14 L578.85,101.22 L578.30,101.30 L577.76,101.38 L577.21,101.47 L576.67,101.55 L576.12,101.63 L575.58,101.71 L575.03,101.79 L574.49,101.88 L573.94,101.96 L573.40,102.04 L572.86,102.13 L572.31,102.21 L571.77,102.30 L571.22,102.38 L570.68,102.46 L570.14,102.55 L569.59,102.63 L569.05,102.72 L568.50,102.80 L567.96,102.89 L567.42,102.98 L566.87,103.06 L566.33,103.15 L565.79,103.24 L565.25,103.32 L564.70,103.41 L564.16,103.50 L563.62,103.59 L563.08,103.67 L562.53,103.76 L561.99,103.85 L561.45,103.94 L560.91,104.03 L560.36,104.12 L559.82,104.21 L559.28,104.30 L558.74,104.39 L558.20,104.48 L557.66,104.57 L557.12,104.66 L556.57,104.75 L556.03,104.84 L555.49,104.93 L554.95,105.02 L554.41,105.11 L553.87,105.20 L553.33,105.29 L552.79,105.38 L552.25,105.47 L551.70,105.56 L551.16,105.65 L550.62,105.74 L550.08,105.83 L549.54,105.92 L549.00,106.01 L548.46,106.09 L547.92,106.18 L547.37,106.27 L546.83,106.35 L546.29,106.44 L545.75,106.52 L545.21,106.61 L544.67,106.69 L544.12,106.78 L543.58,106.86 L543.04,106.94 L542.49,107.02 L541.95,107.10 L541.41,107.18 L540.87,107.26 L540.32,107.34 L539.78,107.41 L539.23,107.49 L538.69,107.56 L538.15,107.64 L537.60,107.71 L537.06,107.78 L536.51,107.85 L535.96,107.92 L535.42,107.99 L534.87,108.05 L534.33,108.12 L533.78,108.18 L533.23,108.24 L532.68,108.31 L532.14,108.37 L531.59,108.42 L531.04,108.48 L530.49,108.54 L529.94,108.59 L529.39,108.64 L528.84,108.69 L528.29,108.74 L527.74,108.79 L527.19,108.84 L526.64,108.88 L526.08,108.92 L525.53,108.96 L524.98,109.00" stroke="#1c9be8" stroke-width="1.6" fill="none" stroke-linejoin="round" stroke-linecap="round" />
<path d="M524.47,101.67 L524.98,101.68 L525.49,101.68 L525.99,101.68 L526.50,101.68 L527.00,101.68 L527.51,101.67 L528.01,101.67 L528.52,101.66 L529.02,101.65 L529.52,101.64 L530.03,101.62 L530.53,101.60 L531.03,101.59 L531.54,101.57 L532.04,101.54 L532.54,101.52 L533.04,101.49 L533.54,101.46 L534.04,101.43 L534.54,101.40 L535.04,101.37 L535.54,101.33 L536.04,101.29 L536.54,101.25 L537.04,101.21 L537.54,101.17 L538.04,101.12 L538.53,101.08 L539.03,101.03 L539.53,100.98 L540.03,100.92 L540.52,100.87 L541.02,100.81 L541.51,100.75 L542.01,100.69 L542.50,100.63 L543.00,100.56 L543.49,100.50 L543.99,100.43 L544.48,100.36 L544.97,100.29 L545.47,100.21 L545.96,100.14 L546.45,100.06 L546.95,99.98 L547.44,99.90 L547.93,99.82 L548.42,99.73 L548.91,99.64 L549.40,99.55 L549.89,99.46 L550.38,99.37 L550.87,99.28 L551.36,99.18 L551.85,99.08 L552.34,98.98 L552.83,98.88 L553.31,98.78 L553.80,98.67 L554.29,98.57 L554.77,98.46 L555.26,98.35 L555.75,98.23 L556.23,98.12 L556.72,98.00 L557.20,97.89 L557.69,97.77 L558.17,97.64 L558.66,97.52 L559.14,97.40 L559.62,97.27 L560.11,97.14 L560.59,97.01 L561.07,96.88 L561.56,96.74 L562.04,96.61 L562.52,96.47 L563.00,96.33 L563.48,96.19 L563.96,96.05 L564.44,95.91 L564.92,95.77 L565.40,95.63 L565.88,95.48 L566.36,95.34 L566.84,95.19 L567.32,95.05 L567.80,94.90 L568.28,94.75 L568.76,94.60 L569.24,94.46 L569.72,94.31 L570.20,94.16 L570.68,94.01 L571.16,93.87 L571.64,93.72 L572.12,93.57 L572.60,93.43 L573.08,93.28 L573.56,93.14 L574.04,92.99 L574.52,92.85 L575.00,92.70 L575.48,92.56 L575.96,92.42 L576.44,92.28 L576.92,92.14 L577.40,92.00 L577.88,91.87 L578.36,91.73 L578.84,91.60 L579.32,91.47 L579.81,91.34 L580.29,91.21 L580.77,91.08 L581.25,90.96 L581.74,90.84 L582.22,90.72 L582.71,90.60 L583.19,90.49 L583.68,90.37 L584.16,90.26 L584.65,90.15 L585.13,90.05 L585.62,89.95 L586.11,89.85 L586.59,89.75 L587.08,89.66 L587.57,89.57 L588.06,89.48 L588.55,89.39 L589.04,89.31 L589.53,89.23 L590.02,89.16 L590.52,89.09 L591.01,89.02 L591.50,88.95 L591.99,88.89 L592.49,88.83 L592.98,88.77 L593.48,88.71 L593.97,88.66 L594.47,88.61 L594.96,88.56 L595.46,88.51 L595.95,88.47 L596.45,88.42 L596.95,88.38 L597.45,88.35 L597.94,88.31 L598.44,88.28 L598.94,88.25 L599.44,88.22 L599.94,88.19 L600.44,88.16 L600.94,88.14 L601.44,88.11 L601.94,88.09 L602.44,88.07 L602.94,88.06 L603.44,88.04 L603.94,88.02 L604.44,88.01 L604.94,88.00 L605.45,87.99 L605.95,87.98 L606.45,87.97 L606.95,87.96 L607.45,87.95 L607.96,87.95 L608.46,87.94 L608.96,87.94 L609.46,87.93 L609.97,87.93 L610.47,87.93 L610.97,87.93 L611.47,87.93 L611.98,87.93 L612.48,87.93 L612.98,87.93 L613.49,87.93 L613.99,87.93 L614.49,87.93 L614.99,87.93 L615.50,87.94 L616.00,87.94 L616.50,87.94 L617.01,87.94 L617.51,87.94 L618.01,87.94 L618.51,87.95 L619.02,87.95 L619.52,87.95 L620.02,87.95 L620.52,87.95 L621.02,87.95 L621.53,87.95 L622.03,87.95 L622.53,87.95 L623.03,87.95 L623.53,87.95 L624.03,87.94 L624.53,87.94 L625.03,87.94 L625.54,87.94 L626.04,87.93 L626.54,87.93 L627.04,87.93 L627.54,87.92 L628.04,87.92 L628.54,87.91 L629.04,87.90 L629.54,87.90 L630.04,87.89 L630.54,87.88 L631.04,87.88 L631.54,87.87 L632.04,87.86 L632.54,87.85 L633.04,87.84 L633.54,87.83 L634.04,87.82 L634.54,87.81 L635.04,87.80 L635.54,87.78 L636.04,87.77 L636.54,87.76 L637.04,87.74 L637.54,87.73 L638.04,87.71 L638.54,87.70 L639.03,87.68 L639.53,87.66 L640.03,87.64 L640.53,87.63 L641.03,87.61 L641.53,87.59 L642.03,87.57 L642.53,87.54 L643.03,87.52 L643.53,87.50 L644.03,87.48 L644.52,87.45 L645.02,87.43 L645.52,87.40 L646.02,87.38 L646.52,87.35 L647.02,87.32 L647.52,87.29 L648.02,87.27 L648.52,87.24 L649.01,87.21 L649.51,87.18 L650.01,87.15 L650.51,87.12 L651.01,87.09 L651.51,87.06 L652.01,87.03 L652.51,87.00 L653.01,86.97 L653.50,86.94 L654.00,86.91 L654.50,86.88 L655.00,86.85 L655.50,86.82 L656.00,86.79 L656.50,86.77 L657.00,86.74 L657.50,86.71 L658.00,86.68 L658.50,86.66 L659.00,86.63 L659.49,86.61 L659.99,86.58 L660.49,86.56 L660.99,86.54 L661.49,86.52 L661.99,86.49 L662.49,86.47 L662.99,86.46 L663.49,86.44 L663.99,86.42 L664.49,86.40 L664.99,86.39 L665.49,86.38 L665.99,86.36 L666.49,86.35 L666.99,86.34 L667.49,86.34 L667.99,86.33 L668.49,86.33 L668.99,86.32 L669.50,86.32 L670.00,86.32 L670.50,86.32 L671.00,86.33 L671.50,86.33 L672.00,86.34 L672.50,86.35" stroke="#959595" stroke-width="2.7" fill="none" stroke-linejoin="round" stroke-linecap="round" />
<path d="M524.47,101.67 L524.98,101.68 L525.49,101.68 L525.99,101.68 L526.50,101.68 L527.00,101.68 L527.51,101.67 L528.01,101.67 L528.52,101.66 L529.02,101.65 L529.52,101.64 L530.03,101.62 L530.53,101.60 L531.03,101.59 L531.54,101.57 L532.04,101.54 L532.54,101.52 L533.04,101.49 L533.54,101.46 L534.04,101.43 L534.54,101.40 L535.04,101.37 L535.54,101.33 L536.04,101.29 L536.54,101.25 L537.04,101.21 L537.54,101.17 L538.04,101.12 L538.53,101.08 L539.03,101.03 L539.53,100.98 L540.03,100.92 L540.52,100.87 L541.02,100.81 L541.51,100.75 L542.01,100.69 L542.50,100.63 L543.00,100.56 L543.49,100.50 L543.99,100.43 L544.48,100.36 L544.97,100.29 L545.47,100.21 L545.96,100.14 L546.45,100.06 L546.95,99.98 L547.44,99.90 L547.93,99.82 L548.42,99.73 L548.91,99.64 L549.40,99.55 L549.89,99.46 L550.38,99.37 L550.87,99.28 L551.36,99.18 L551.85,99.08 L552.34,98.98 L552.83,98.88 L553.31,98.78 L553.80,98.67 L554.29,98.57 L554.77,98.46 L555.26,98.35 L555.75,98.23 L556.23,98.12 L556.72,98.00 L557.20,97.89 L557.69,97.77 L558.17,97.64 L558.66,97.52 L559.14,97.40 L559.62,97.27 L560.11,97.14 L560.59,97.01 L561.07,96.88 L561.56,96.74 L562.04,96.61 L562.52,96.47 L563.00,96.33 L563.48,96.19 L563.96,96.05 L564.44,95.91 L564.92,95.77 L565.40,95.63 L565.88,95.48 L566.36,95.34 L566.84,95.19 L567.32,95.05 L567.80,94.90 L568.28,94.75 L568.76,94.60 L569.24,94.46 L569.72,94.31 L570.20,94.16 L570.68,94.01 L571.16,93.87 L571.64,93.72 L572.12,93.57 L572.60,93.43 L573.08,93.28 L573.56,93.14 L574.04,92.99 L574.52,92.85 L575.00,92.70 L575.48,92.56 L575.96,92.42 L576.44,92.28 L576.92,92.14 L577.40,92.00 L577.88,91.87 L578.36,91.73 L578.84,91.60 L579.32,91.47 L579.81,91.34 L580.29,91.21 L580.77,91.08 L581.25,90.96 L581.74,90.84 L582.22,90.72 L582.71,90.60 L583.19,90.49 L583.68,90.37 L584.16,90.26 L584.65,90.15 L585.13,90.05 L585.62,89.95 L586.11,89.85 L586.59,89.75 L587.08,89.66 L587.57,89.57 L588.06,89.48 L588.55,89.39 L589.04,89.31 L589.53,89.23 L590.02,89.16 L590.52,89.09 L591.01,89.02 L591.50,88.95 L591.99,88.89 L592.49,88.83 L592.98,88.77 L593.48,88.71 L593.97,88.66 L594.47,88.61 L594.96,88.56 L595.46,88.51 L595.95,88.47 L596.45,88.42 L596.95,88.38 L597.45,88.35 L597.94,88.31 L598.44,88.28 L598.94,88.25 L599.44,88.22 L599.94,88.19 L600.44,88.16 L600.94,88.14 L601.44,88.11 L601.94,88.09 L602.44,88.07 L602.94,88.06 L603.44,88.04 L603.94,88.02 L604.44,88.01 L604.94,88.00 L605.45,87.99 L605.95,87.98 L606.45,87.97 L606.95,87.96 L607.45,87.95 L607.96,87.95 L608.46,87.94 L608.96,87.94 L609.46,87.93 L609.97,87.93 L610.47,87.93 L610.97,87.93 L611.47,87.93 L611.98,87.93 L612.48,87.93 L612.98,87.93 L613.49,87.93 L613.99,87.93 L614.49,87.93 L614.99,87.93 L615.50,87.94 L616.00,87.94 L616.50,87.94 L617.01,87.94 L617.51,87.94 L618.01,87.94 L618.51,87.95 L619.02,87.95 L619.52,87.95 L620.02,87.95 L620.52,87.95 L621.02,87.95 L621.53,87.95 L622.03,87.95 L622.53,87.95 L623.03,87.95 L623.53,87.95 L624.03,87.94 L624.53,87.94 L625.03,87.94 L625.54,87.94 L626.04,87.93 L626.54,87.93 L627.04,87.93 L627.54,87.92 L628.04,87.92 L628.54,87.91 L629.04,87.90 L629.54,87.90 L630.04,87.89 L630.54,87.88 L631.04,87.88 L631.54,87.87 L632.04,87.86 L632.54,87.85 L633.04,87.84 L633.54,87.83 L634.04,87.82 L634.54,87.81 L635.04,87.80 L635.54,87.78 L636.04,87.77 L636.54,87.76 L637.04,87.74 L637.54,87.73 L638.04,87.71 L638.54,87.70 L639.03,87.68 L639.53,87.66 L640.03,87.64 L640.53,87.63 L641.03,87.61 L641.53,87.59 L642.03,87.57 L642.53,87.54 L643.03,87.52 L643.53,87.50 L644.03,87.48 L644.52,87.45 L645.02,87.43 L645.52,87.40 L646.02,87.38 L646.52,87.35 L647.02,87.32 L647.52,87.29 L648.02,87.27 L648.52,87.24 L649.01,87.21 L649.51,87.18 L650.01,87.15 L650.51,87.12 L651.01,87.09 L651.51,87.06 L652.01,87.03 L652.51,87.00 L653.01,86.97 L653.50,86.94 L654.00,86.91 L654.50,86.88 L655.00,86.85 L655.50,86.82 L656.00,86.79 L656.50,86.77 L657.00,86.74 L657.50,86.71 L658.00,86.68 L658.50,86.66 L659.00,86.63 L659.49,86.61 L659.99,86.58 L660.49,86.56 L660.99,86.54 L661.49,86.52 L661.99,86.49 L662.49,86.47 L662.99,86.46 L663.49,86.44 L663.99,86.42 L664.49,86.40 L664.99,86.39 L665.49,86.38 L665.99,86.36 L666.49,86.35 L666.99,86.34 L667.49,86.34 L667.99,86.33 L668.49,86.33 L668.99,86.32 L669.50,86.32 L670.00,86.32 L670.50,86.32 L671.00,86.33 L671.50,86.33 L672.00,86.34 L672.50,86.35" stroke="#727272" stroke-width="0.9" fill="none" stroke-linejoin="round" stroke-linecap="round" transform="translate(0,-0.7)"/>
<path d="M524.47,101.67 L524.98,101.68 L525.49,101.68 L525.99,101.68 L526.50,101.68 L527.00,101.68 L527.51,101.67 L528.01,101.67 L528.52,101.66 L529.02,101.65 L529.52,101.64 L530.03,101.62 L530.53,101.60 L531.03,101.59 L531.54,101.57 L532.04,101.54 L532.54,101.52 L533.04,101.49 L533.54,101.46 L534.04,101.43 L534.54,101.40 L535.04,101.37 L535.54,101.33 L536.04,101.29 L536.54,101.25 L537.04,101.21 L537.54,101.17 L538.04,101.12 L538.53,101.08 L539.03,101.03 L539.53,100.98 L540.03,100.92 L540.52,100.87 L541.02,100.81 L541.51,100.75 L542.01,100.69 L542.50,100.63 L543.00,100.56 L543.49,100.50 L543.99,100.43 L544.48,100.36 L544.97,100.29 L545.47,100.21 L545.96,100.14 L546.45,100.06 L546.95,99.98 L547.44,99.90 L547.93,99.82 L548.42,99.73 L548.91,99.64 L549.40,99.55 L549.89,99.46 L550.38,99.37 L550.87,99.28 L551.36,99.18 L551.85,99.08 L552.34,98.98 L552.83,98.88 L553.31,98.78 L553.80,98.67 L554.29,98.57 L554.77,98.46 L555.26,98.35 L555.75,98.23 L556.23,98.12 L556.72,98.00 L557.20,97.89 L557.69,97.77 L558.17,97.64 L558.66,97.52 L559.14,97.40 L559.62,97.27 L560.11,97.14 L560.59,97.01 L561.07,96.88 L561.56,96.74 L562.04,96.61 L562.52,96.47 L563.00,96.33 L563.48,96.19 L563.96,96.05 L564.44,95.91 L564.92,95.77 L565.40,95.63 L565.88,95.48 L566.36,95.34 L566.84,95.19 L567.32,95.05 L567.80,94.90 L568.28,94.75 L568.76,94.60 L569.24,94.46 L569.72,94.31 L570.20,94.16 L570.68,94.01 L571.16,93.87 L571.64,93.72 L572.12,93.57 L572.60,93.43 L573.08,93.28 L573.56,93.14 L574.04,92.99 L574.52,92.85 L575.00,92.70 L575.48,92.56 L575.96,92.42 L576.44,92.28 L576.92,92.14 L577.40,92.00 L577.88,91.87 L578.36,91.73 L578.84,91.60 L579.32,91.47 L579.81,91.34 L580.29,91.21 L580.77,91.08 L581.25,90.96 L581.74,90.84 L582.22,90.72 L582.71,90.60 L583.19,90.49 L583.68,90.37 L584.16,90.26 L584.65,90.15 L585.13,90.05 L585.62,89.95 L586.11,89.85 L586.59,89.75 L587.08,89.66 L587.57,89.57 L588.06,89.48 L588.55,89.39 L589.04,89.31 L589.53,89.23 L590.02,89.16 L590.52,89.09 L591.01,89.02 L591.50,88.95 L591.99,88.89 L592.49,88.83 L592.98,88.77 L593.48,88.71 L593.97,88.66 L594.47,88.61 L594.96,88.56 L595.46,88.51 L595.95,88.47 L596.45,88.42 L596.95,88.38 L597.45,88.35 L597.94,88.31 L598.44,88.28 L598.94,88.25 L599.44,88.22 L599.94,88.19 L600.44,88.16 L600.94,88.14 L601.44,88.11 L601.94,88.09 L602.44,88.07 L602.94,88.06 L603.44,88.04 L603.94,88.02 L604.44,88.01 L604.94,88.00 L605.45,87.99 L605.95,87.98 L606.45,87.97 L606.95,87.96 L607.45,87.95 L607.96,87.95 L608.46,87.94 L608.96,87.94 L609.46,87.93 L609.97,87.93 L610.47,87.93 L610.97,87.93 L611.47,87.93 L611.98,87.93 L612.48,87.93 L612.98,87.93 L613.49,87.93 L613.99,87.93 L614.49,87.93 L614.99,87.93 L615.50,87.94 L616.00,87.94 L616.50,87.94 L617.01,87.94 L617.51,87.94 L618.01,87.94 L618.51,87.95 L619.02,87.95 L619.52,87.95 L620.02,87.95 L620.52,87.95 L621.02,87.95 L621.53,87.95 L622.03,87.95 L622.53,87.95 L623.03,87.95 L623.53,87.95 L624.03,87.94 L624.53,87.94 L625.03,87.94 L625.54,87.94 L626.04,87.93 L626.54,87.93 L627.04,87.93 L627.54,87.92 L628.04,87.92 L628.54,87.91 L629.04,87.90 L629.54,87.90 L630.04,87.89 L630.54,87.88 L631.04,87.88 L631.54,87.87 L632.04,87.86 L632.54,87.85 L633.04,87.84 L633.54,87.83 L634.04,87.82 L634.54,87.81 L635.04,87.80 L635.54,87.78 L636.04,87.77 L636.54,87.76 L637.04,87.74 L637.54,87.73 L638.04,87.71 L638.54,87.70 L639.03,87.68 L639.53,87.66 L640.03,87.64 L640.53,87.63 L641.03,87.61 L641.53,87.59 L642.03,87.57 L642.53,87.54 L643.03,87.52 L643.53,87.50 L644.03,87.48 L644.52,87.45 L645.02,87.43 L645.52,87.40 L646.02,87.38 L646.52,87.35 L647.02,87.32 L647.52,87.29 L648.02,87.27 L648.52,87.24 L649.01,87.21 L649.51,87.18 L650.01,87.15 L650.51,87.12 L651.01,87.09 L651.51,87.06 L652.01,87.03 L652.51,87.00 L653.01,86.97 L653.50,86.94 L654.00,86.91 L654.50,86.88 L655.00,86.85 L655.50,86.82 L656.00,86.79 L656.50,86.77 L657.00,86.74 L657.50,86.71 L658.00,86.68 L658.50,86.66 L659.00,86.63 L659.49,86.61 L659.99,86.58 L660.49,86.56 L660.99,86.54 L661.49,86.52 L661.99,86.49 L662.49,86.47 L662.99,86.46 L663.49,86.44 L663.99,86.42 L664.49,86.40 L664.99,86.39 L665.49,86.38 L665.99,86.36 L666.49,86.35 L666.99,86.34 L667.49,86.34 L667.99,86.33 L668.49,86.33 L668.99,86.32 L669.50,86.32 L670.00,86.32 L670.50,86.32 L671.00,86.33 L671.50,86.33 L672.00,86.34 L672.50,86.35" stroke="#727272" stroke-width="0.9" fill="none" stroke-linejoin="round" stroke-linecap="round" transform="translate(0,0.8)"/>
</g>
<line x1="520.90" y1="19.20" x2="539.80" y2="19.20" stroke="#7e7e7e" stroke-width="2" />
<text x="544.30" y="22.20" font-size="8.8" text-anchor="start" font-weight="bold" fill="#000" >Bare</text>
<line x1="520.90" y1="29.00" x2="539.80" y2="29.00" stroke="#2a80bd" stroke-width="2" />
<text x="544.30" y="32.00" font-size="8.8" text-anchor="start" font-weight="bold" fill="#000" >PEDOT:PSS</text>
<line x1="520.90" y1="38.80" x2="539.80" y2="38.80" stroke="#f28a8f" stroke-width="2" />
<text x="544.30" y="41.80" font-size="8.8" text-anchor="start" font-weight="bold" fill="#000" >PEDOT:PSS/PDA</text>
<rect x="513.6" y="9.2" width="169.79999999999995" height="135.9" fill="none" stroke="#000" stroke-width="1.2"/>
<line x1="513.60" y1="145.10" x2="513.60" y2="143.60" stroke="#000" stroke-width="0.8" />
<line x1="524.21" y1="145.10" x2="524.21" y2="142.50" stroke="#000" stroke-width="1" />
<line x1="534.83" y1="145.10" x2="534.83" y2="143.60" stroke="#000" stroke-width="0.8" />
<line x1="545.44" y1="145.10" x2="545.44" y2="142.50" stroke="#000" stroke-width="1" />
<line x1="556.05" y1="145.10" x2="556.05" y2="143.60" stroke="#000" stroke-width="0.8" />
<line x1="566.66" y1="145.10" x2="566.66" y2="142.50" stroke="#000" stroke-width="1" />
<line x1="577.27" y1="145.10" x2="577.27" y2="143.60" stroke="#000" stroke-width="0.8" />
<line x1="587.89" y1="145.10" x2="587.89" y2="142.50" stroke="#000" stroke-width="1" />
<line x1="598.50" y1="145.10" x2="598.50" y2="143.60" stroke="#000" stroke-width="0.8" />
<line x1="609.11" y1="145.10" x2="609.11" y2="142.50" stroke="#000" stroke-width="1" />
<line x1="619.73" y1="145.10" x2="619.73" y2="143.60" stroke="#000" stroke-width="0.8" />
<line x1="630.34" y1="145.10" x2="630.34" y2="142.50" stroke="#000" stroke-width="1" />
<line x1="640.95" y1="145.10" x2="640.95" y2="143.60" stroke="#000" stroke-width="0.8" />
<line x1="651.56" y1="145.10" x2="651.56" y2="142.50" stroke="#000" stroke-width="1" />
<line x1="662.17" y1="145.10" x2="662.17" y2="143.60" stroke="#000" stroke-width="0.8" />
<line x1="672.79" y1="145.10" x2="672.79" y2="142.50" stroke="#000" stroke-width="1" />
<line x1="683.40" y1="145.10" x2="683.40" y2="143.60" stroke="#000" stroke-width="0.8" />
<line x1="513.60" y1="141.52" x2="515.10" y2="141.52" stroke="#000" stroke-width="0.8" />
<line x1="513.60" y1="123.64" x2="516.20" y2="123.64" stroke="#000" stroke-width="1" />
<line x1="513.60" y1="105.76" x2="515.10" y2="105.76" stroke="#000" stroke-width="0.8" />
<line x1="513.60" y1="87.88" x2="516.20" y2="87.88" stroke="#000" stroke-width="1" />
<line x1="513.60" y1="70.00" x2="515.10" y2="70.00" stroke="#000" stroke-width="0.8" />
<line x1="513.60" y1="52.12" x2="516.20" y2="52.12" stroke="#000" stroke-width="1" />
<line x1="513.60" y1="34.23" x2="515.10" y2="34.23" stroke="#000" stroke-width="0.8" />
<line x1="513.60" y1="16.35" x2="516.20" y2="16.35" stroke="#000" stroke-width="1" />
<text x="508.40" y="19.95" font-size="10" text-anchor="end" font-weight="bold" fill="#000" >10</text>
<text x="508.40" y="55.72" font-size="10" text-anchor="end" font-weight="bold" fill="#000" >5</text>
<text x="508.40" y="91.48" font-size="10" text-anchor="end" font-weight="bold" fill="#000" >0</text>
<text x="508.40" y="127.24" font-size="10" text-anchor="end" font-weight="bold" fill="#000" >−5</text>
<text transform="translate(530.81,155.30) rotate(-45)" font-size="10.4" text-anchor="end" font-weight="bold">−0.6</text>
<text transform="translate(552.04,155.30) rotate(-45)" font-size="10.4" text-anchor="end" font-weight="bold">−0.4</text>
<text transform="translate(573.26,155.30) rotate(-45)" font-size="10.4" text-anchor="end" font-weight="bold">−0.2</text>
<text transform="translate(594.49,155.30) rotate(-45)" font-size="10.4" text-anchor="end" font-weight="bold">0.0</text>
<text transform="translate(615.71,155.30) rotate(-45)" font-size="10.4" text-anchor="end" font-weight="bold">0.2</text>
<text transform="translate(636.94,155.30) rotate(-45)" font-size="10.4" text-anchor="end" font-weight="bold">0.4</text>
<text transform="translate(658.16,155.30) rotate(-45)" font-size="10.4" text-anchor="end" font-weight="bold">0.6</text>
<text transform="translate(679.39,155.30) rotate(-45)" font-size="10.4" text-anchor="end" font-weight="bold">0.8</text>
<text x="598.60" y="181.60" font-size="10.15" text-anchor="middle" font-weight="bold" fill="#000" >Potential (V vs.Ag|AgCl)</text>
<text transform="translate(488.0,77.0) rotate(-90)" font-size="10.3" text-anchor="middle" font-weight="bold">Current density (mA/cm<tspan font-size="7" dy="-3.5">2</tspan><tspan dy="3.5">)</tspan></text>
<text x="635.90" y="125.60" font-size="8.75" text-anchor="middle" font-weight="bold" fill="#000" >Scanning in PBS</text>
<rect x="483.5" y="216.0" width="200.89999999999998" height="158.39999999999998" fill="none" stroke="#000" stroke-width="1.2"/>
<rect x="498.40" y="361.60" width="19.90" height="12.80" fill="#5ab5e7" stroke="#3b9bd8" stroke-width="1"/>
<line x1="508.35" y1="361.10" x2="508.35" y2="359.30" stroke="#3b9bd8" stroke-width="1.3" />
<line x1="505.60" y1="359.30" x2="511.10" y2="359.30" stroke="#3b9bd8" stroke-width="1.3" />
<rect x="523.70" y="349.50" width="19.60" height="24.90" fill="#5ab5e7" stroke="#3b9bd8" stroke-width="1"/>
<line x1="533.50" y1="349.00" x2="533.50" y2="345.70" stroke="#3b9bd8" stroke-width="1.3" />
<line x1="530.75" y1="345.70" x2="536.25" y2="345.70" stroke="#3b9bd8" stroke-width="1.3" />
<rect x="548.6" y="265.8" width="20.4" height="59" fill="#5ab5e7" stroke="#3b9bd8" stroke-width="1"/>
<rect x="548.6" y="327.6" width="20.4" height="46.8" fill="#5ab5e7" stroke="#3b9bd8" stroke-width="1"/>
<line x1="558.90" y1="265.80" x2="558.90" y2="245.30" stroke="#3b9bd8" stroke-width="1.3" />
<line x1="555.80" y1="245.30" x2="562.00" y2="245.30" stroke="#3b9bd8" stroke-width="1.3" />
<rect x="599.00" y="365.80" width="20.20" height="8.60" fill="#f7898b" stroke="#ec6f72" stroke-width="1"/>
<line x1="609.10" y1="365.30" x2="609.10" y2="363.20" stroke="#ec6f72" stroke-width="1.3" />
<line x1="606.35" y1="363.20" x2="611.85" y2="363.20" stroke="#ec6f72" stroke-width="1.3" />
<rect x="624.50" y="362.60" width="19.90" height="11.80" fill="#f7898b" stroke="#ec6f72" stroke-width="1"/>
<line x1="634.50" y1="362.10" x2="634.50" y2="359.30" stroke="#ec6f72" stroke-width="1.3" />
<line x1="631.75" y1="359.30" x2="637.25" y2="359.30" stroke="#ec6f72" stroke-width="1.3" />
<rect x="649.60" y="361.80" width="19.60" height="12.60" fill="#f7898b" stroke="#ec6f72" stroke-width="1"/>
<line x1="659.40" y1="361.30" x2="659.40" y2="359.30" stroke="#ec6f72" stroke-width="1.3" />
<line x1="656.65" y1="359.30" x2="662.15" y2="359.30" stroke="#ec6f72" stroke-width="1.3" />
<rect x="478" y="322.8" width="10" height="5" fill="#fff"/>
<line x1="480.30" y1="325.30" x2="487.30" y2="321.30" stroke="#000" stroke-width="1" />
<line x1="480.30" y1="328.30" x2="487.30" y2="324.30" stroke="#000" stroke-width="1" />
<line x1="483.50" y1="374.60" x2="486.10" y2="374.60" stroke="#000" stroke-width="1" />
<line x1="483.50" y1="366.65" x2="485.00" y2="366.65" stroke="#000" stroke-width="0.8" />
<line x1="483.50" y1="358.70" x2="486.10" y2="358.70" stroke="#000" stroke-width="1" />
<line x1="483.50" y1="350.75" x2="485.00" y2="350.75" stroke="#000" stroke-width="0.8" />
<line x1="483.50" y1="342.80" x2="486.10" y2="342.80" stroke="#000" stroke-width="1" />
<line x1="483.50" y1="334.85" x2="485.00" y2="334.85" stroke="#000" stroke-width="0.8" />
<line x1="483.50" y1="317.00" x2="485.00" y2="317.00" stroke="#000" stroke-width="0.8" />
<line x1="483.50" y1="309.30" x2="486.10" y2="309.30" stroke="#000" stroke-width="1" />
<line x1="483.50" y1="301.60" x2="485.00" y2="301.60" stroke="#000" stroke-width="0.8" />
<line x1="483.50" y1="293.90" x2="486.10" y2="293.90" stroke="#000" stroke-width="1" />
<line x1="483.50" y1="286.20" x2="485.00" y2="286.20" stroke="#000" stroke-width="0.8" />
<line x1="483.50" y1="278.50" x2="486.10" y2="278.50" stroke="#000" stroke-width="1" />
<line x1="483.50" y1="270.80" x2="485.00" y2="270.80" stroke="#000" stroke-width="0.8" />
<line x1="483.50" y1="263.10" x2="486.10" y2="263.10" stroke="#000" stroke-width="1" />
<line x1="483.50" y1="255.40" x2="485.00" y2="255.40" stroke="#000" stroke-width="0.8" />
<line x1="483.50" y1="247.70" x2="486.10" y2="247.70" stroke="#000" stroke-width="1" />
<line x1="483.50" y1="240.00" x2="485.00" y2="240.00" stroke="#000" stroke-width="0.8" />
<line x1="483.50" y1="232.30" x2="486.10" y2="232.30" stroke="#000" stroke-width="1" />
<line x1="483.50" y1="224.60" x2="485.00" y2="224.60" stroke="#000" stroke-width="0.8" />
<line x1="483.50" y1="216.90" x2="486.10" y2="216.90" stroke="#000" stroke-width="1" />
<text x="477.30" y="378.20" font-size="10" text-anchor="end" font-weight="bold" fill="#000" >0</text>
<text x="477.30" y="362.30" font-size="10" text-anchor="end" font-weight="bold" fill="#000" >50k</text>
<text x="477.30" y="346.40" font-size="10" text-anchor="end" font-weight="bold" fill="#000" >100k</text>
<text x="477.30" y="312.90" font-size="10" text-anchor="end" font-weight="bold" fill="#000" >800k</text>
<text x="477.30" y="297.50" font-size="10" text-anchor="end" font-weight="bold" fill="#000" >850k</text>
<text x="477.30" y="282.10" font-size="10" text-anchor="end" font-weight="bold" fill="#000" >900k</text>
<text x="477.30" y="266.70" font-size="10" text-anchor="end" font-weight="bold" fill="#000" >950k</text>
<text x="477.30" y="251.30" font-size="10" text-anchor="end" font-weight="bold" fill="#000" >1.0M</text>
<text x="477.30" y="235.90" font-size="10" text-anchor="end" font-weight="bold" fill="#000" >1.1M</text>
<text transform="translate(444.8,295.4) rotate(-90)" font-size="10.1" text-anchor="middle" font-weight="bold">Impedance at 1kHz (Ω)</text>
<rect x="572" y="221.8" width="14" height="7.8" fill="#2e9be0"/>
<rect x="572" y="233.2" width="14" height="7.9" fill="#fc8e8e"/>
<text x="590.40" y="228.90" font-size="8.95" text-anchor="start" font-weight="bold" fill="#000" >PEDOT:PSS</text>
<text x="590.40" y="240.70" font-size="8.95" text-anchor="start" font-weight="bold" fill="#000" >PEDOT:PSS/PDA</text>
<line x1="511.40" y1="239.60" x2="562.10" y2="239.60" stroke="#555" stroke-width="1.5" />
<text x="536.60" y="240.60" font-size="15.2" text-anchor="middle" font-weight="normal" fill="#333" >***</text>
<line x1="505.00" y1="339.30" x2="531.70" y2="339.30" stroke="#111" stroke-width="1.25" />
<text x="519.20" y="335.80" font-size="10" text-anchor="middle" font-weight="normal" fill="#000" >n.s.</text>
<line x1="607.30" y1="352.50" x2="634.30" y2="352.50" stroke="#111" stroke-width="1.25" />
<text x="621.40" y="349.40" font-size="10" text-anchor="middle" font-weight="normal" fill="#000" >n.s.</text>
<line x1="632.20" y1="336.30" x2="660.00" y2="336.30" stroke="#111" stroke-width="1.25" />
<text x="646.60" y="332.90" font-size="10" text-anchor="middle" font-weight="normal" fill="#000" >n.s.</text>
<text transform="translate(511.85,383.20) rotate(-45)" font-size="10.3" text-anchor="end" font-weight="bold">before</text>
<text transform="translate(537.00,383.20) rotate(-45)" font-size="10.3" text-anchor="end" font-weight="bold">30min</text>
<text transform="translate(562.20,383.20) rotate(-45)" font-size="10.3" text-anchor="end" font-weight="bold">60min</text>
<text transform="translate(612.60,383.20) rotate(-45)" font-size="10.3" text-anchor="end" font-weight="bold">before</text>
<text transform="translate(638.00,383.20) rotate(-45)" font-size="10.3" text-anchor="end" font-weight="bold">30min</text>
<text transform="translate(662.90,383.20) rotate(-45)" font-size="10.3" text-anchor="end" font-weight="bold">60min</text>
<rect x="27.5" y="209.7" width="352.1" height="198.3" fill="none" stroke="#000" stroke-width="1.2"/>
<text x="98.85" y="221.80" font-size="10.1" text-anchor="middle" font-weight="bold" fill="#000" >Before</text>
<text x="204.90" y="221.80" font-size="10.1" text-anchor="middle" font-weight="bold" fill="#000" >After 30 min</text>
<text x="311.65" y="221.80" font-size="10.1" text-anchor="middle" font-weight="bold" fill="#000" >After 60 min</text>
<text transform="translate(42.0,265.3) rotate(-90)" font-size="10.3" text-anchor="middle" font-weight="bold">PEDOT:PSS</text>
<text transform="translate(42.0,356.4) rotate(-90)" font-size="10.2" text-anchor="middle" font-weight="bold">PEDOT:PSS/PDA</text>
<text x="129.20" y="300.00" font-size="10" font-weight="bold">40 <tspan font-weight="normal">μ</tspan>m</text>
<rect x="136.60" y="303.10" width="14.2" height="2.3" fill="#000"/>
<text x="235.50" y="300.00" font-size="10" font-weight="bold">40 <tspan font-weight="normal">μ</tspan>m</text>
<rect x="243.00" y="303.10" width="14.2" height="2.3" fill="#000"/>
<text x="343.80" y="299.70" font-size="10" font-weight="bold">40 <tspan font-weight="normal">μ</tspan>m</text>
<rect x="351.10" y="302.80" width="14.2" height="2.3" fill="#000"/>
<text x="129.20" y="390.60" font-size="10" font-weight="bold">40 <tspan font-weight="normal">μ</tspan>m</text>
<rect x="136.60" y="393.70" width="14.2" height="2.3" fill="#000"/>
<text x="235.50" y="390.60" font-size="10" font-weight="bold">40 <tspan font-weight="normal">μ</tspan>m</text>
<rect x="243.00" y="393.70" width="14.2" height="2.3" fill="#000"/>
<text x="343.80" y="390.30" font-size="10" font-weight="bold">40 <tspan font-weight="normal">μ</tspan>m</text>
<rect x="351.10" y="393.40" width="14.2" height="2.3" fill="#000"/>
<g clip-path="url(#cl0)"><g filter="url(#blr1)"><rect x="47.900000000000006" y="215.0" width="100" height="100" fill="#a6a098"/><polygon points="52.40,236.61 115.40,294.98 115.60,219.50 52.40,219.50" fill="#aed1de" stroke="#8db7ca" stroke-width="0.9"/><g clip-path="url(#pr0)"><circle cx="94" cy="232" r="11.5" fill="#c9bdb6" opacity="0.9" filter="url(#blr)"/></g><line x1="74.5" y1="219.5" x2="73.1" y2="245.1" stroke="#f4efa6" stroke-width="1.6"/><line x1="83.8" y1="219.5" x2="82.3" y2="253.6" stroke="#f4efa6" stroke-width="1.6"/><line x1="92.6" y1="219.5" x2="92.4" y2="262" stroke="#f4efa6" stroke-width="1.6"/><line x1="101.7" y1="219.5" x2="101.2" y2="270.5" stroke="#f4efa6" stroke-width="1.6"/><line x1="110.2" y1="219.5" x2="109.3" y2="279.3" stroke="#f4efa6" stroke-width="1.6"/><circle cx="73.1" cy="245.1" r="2.9" fill="#8d9879" stroke="#56625f" stroke-width="0.6"/><circle cx="82.3" cy="253.6" r="3.0" fill="#5cb2c4" stroke="#56625f" stroke-width="0.6"/><circle cx="92.4" cy="262" r="3.2" fill="#4fb3d0" stroke="#56625f" stroke-width="0.6"/><circle cx="101.2" cy="270.5" r="3.0" fill="#f6f2da" stroke="#56625f" stroke-width="0.6"/><circle cx="109.3" cy="279.3" r="3.0" fill="#4b9aaa" stroke="#56625f" stroke-width="0.6"/></g></g>
<g clip-path="url(#cl1)"><g filter="url(#blr1)"><rect x="154.75" y="215.35000000000002" width="100" height="100" fill="#888079"/><polygon points="158.95,236.68 224.20,297.94 224.40,219.55 158.95,219.55" fill="#accfdd" stroke="#8db7ca" stroke-width="0.9"/><g clip-path="url(#pr1)"><circle cx="202.4" cy="229.9" r="11" fill="#9fb4bb" opacity="0.8" filter="url(#blr)"/></g><line x1="177" y1="219.55" x2="176.4" y2="242" stroke="#f4efa6" stroke-width="1.6"/><line x1="187.6" y1="219.55" x2="186.9" y2="251.9" stroke="#f4efa6" stroke-width="1.6"/><line x1="197.3" y1="219.55" x2="197.3" y2="261.4" stroke="#f4efa6" stroke-width="1.6"/><line x1="207.4" y1="219.55" x2="207.4" y2="270.7" stroke="#f4efa6" stroke-width="1.6"/><line x1="216.7" y1="219.55" x2="217.1" y2="280.6" stroke="#f4efa6" stroke-width="1.6"/><circle cx="176.4" cy="242" r="3.0" fill="#6f9a94" stroke="#56625f" stroke-width="0.6"/><circle cx="186.9" cy="251.9" r="3.0" fill="#4a9fb0" stroke="#56625f" stroke-width="0.6"/><circle cx="197.3" cy="261.4" r="3.1" fill="#3f9cb2" stroke="#56625f" stroke-width="0.6"/><circle cx="207.4" cy="270.7" r="3.2" fill="#f6f2da" stroke="#56625f" stroke-width="0.6"/><circle cx="217.1" cy="280.6" r="3.1" fill="#3f8e98" stroke="#56625f" stroke-width="0.6"/></g></g>
<g clip-path="url(#cl2)"><g filter="url(#blr1)"><rect x="261.55" y="215.35000000000002" width="100" height="100" fill="#a49b93"/><polygon points="265.85,223.02 332.00,296.00 334.91,219.65 265.85,219.65" fill="#aad2e3" stroke="#8db7ca" stroke-width="0.9"/><line x1="292.8" y1="219.65000000000003" x2="291.3" y2="240.3" stroke="#f4efa6" stroke-width="1.6"/><line x1="302.3" y1="219.65000000000003" x2="299.9" y2="249.3" stroke="#f4efa6" stroke-width="1.6"/><line x1="310.9" y1="219.65000000000003" x2="308.9" y2="259.2" stroke="#f4efa6" stroke-width="1.6"/><line x1="319.7" y1="219.65000000000003" x2="317.7" y2="268.9" stroke="#f4efa6" stroke-width="1.6"/><line x1="328.1" y1="219.65000000000003" x2="325.9" y2="278.8" stroke="#f4efa6" stroke-width="1.6"/><circle cx="291.3" cy="240.3" r="3.2" fill="#f6f2da" stroke="#56625f" stroke-width="0.6"/><circle cx="299.9" cy="249.3" r="3.2" fill="#f6f2da" stroke="#56625f" stroke-width="0.6"/><circle cx="308.9" cy="259.2" r="3.2" fill="#f6f2da" stroke="#56625f" stroke-width="0.6"/><circle cx="317.7" cy="268.9" r="3.2" fill="#f6f2da" stroke="#56625f" stroke-width="0.6"/><circle cx="325.9" cy="278.8" r="3.1" fill="#7fb0a8" stroke="#56625f" stroke-width="0.6"/></g></g>
<g clip-path="url(#cl3)"><g filter="url(#blr1)"><rect x="48.45" y="306.25" width="100" height="100" fill="#a59f95"/><polygon points="80.89,310.50 144.20,310.50 144.20,329.97 79.99,388.94" fill="#a9d0dd" stroke="#8db7ca" stroke-width="0.9"/><g clip-path="url(#pr3)"><circle cx="93" cy="326" r="12.8" fill="#c8b8d3" opacity="1" filter="url(#blr)"/></g><line x1="87.9" y1="310.5" x2="87.9" y2="375.4" stroke="#f4efa6" stroke-width="1.6"/><line x1="96.7" y1="310.5" x2="96.7" y2="365.7" stroke="#f4efa6" stroke-width="1.6"/><line x1="105.7" y1="310.5" x2="105.7" y2="356.7" stroke="#f4efa6" stroke-width="1.6"/><line x1="115.4" y1="310.5" x2="115.4" y2="347.9" stroke="#f4efa6" stroke-width="1.6"/><line x1="124.4" y1="310.5" x2="124.4" y2="338.6" stroke="#f4efa6" stroke-width="1.6"/><circle cx="87.9" cy="375.4" r="3.6" fill="#2b3236" stroke="#56625f" stroke-width="0.6"/><circle cx="96.7" cy="365.7" r="3.6" fill="#2b3236" stroke="#56625f" stroke-width="0.6"/><circle cx="105.7" cy="356.7" r="3.6" fill="#2b3236" stroke="#56625f" stroke-width="0.6"/><circle cx="115.4" cy="347.9" r="3.6" fill="#2b3236" stroke="#56625f" stroke-width="0.6"/><circle cx="124.4" cy="338.6" r="3.0" fill="#f8f6e4" stroke="#56625f" stroke-width="0.6"/></g></g>
<g clip-path="url(#cl4)"><g filter="url(#blr1)"><rect x="155.1" y="306.6" width="100" height="100" fill="#a09a91"/><polygon points="187.89,310.50 251.20,310.50 251.20,329.58 186.10,389.30" fill="#a9d0dd" stroke="#8db7ca" stroke-width="0.9"/><g clip-path="url(#pr4)"><circle cx="199.5" cy="326.3" r="12.5" fill="#c8b8d3" opacity="1" filter="url(#blr)"/></g><line x1="194.4" y1="310.5" x2="194.4" y2="375.6" stroke="#f4efa6" stroke-width="1.6"/><line x1="203.3" y1="310.5" x2="202.8" y2="366.2" stroke="#f4efa6" stroke-width="1.6"/><line x1="212.5" y1="310.5" x2="212.1" y2="356.7" stroke="#f4efa6" stroke-width="1.6"/><line x1="222" y1="310.5" x2="222.2" y2="347.9" stroke="#f4efa6" stroke-width="1.6"/><line x1="230.8" y1="310.5" x2="231.2" y2="338.6" stroke="#f4efa6" stroke-width="1.6"/><circle cx="194.4" cy="375.6" r="3.6" fill="#2b3236" stroke="#56625f" stroke-width="0.6"/><circle cx="202.8" cy="366.2" r="3.7" fill="#2b3236" stroke="#56625f" stroke-width="0.6"/><circle cx="212.1" cy="356.7" r="3.7" fill="#2b3236" stroke="#56625f" stroke-width="0.6"/><circle cx="222.2" cy="347.9" r="3.7" fill="#2b3236" stroke="#56625f" stroke-width="0.6"/><circle cx="231.2" cy="338.6" r="3.0" fill="#f8f6e4" stroke="#56625f" stroke-width="0.6"/></g></g>
<g clip-path="url(#cl5)"><g filter="url(#blr1)"><rect x="261.8" y="306.6" width="100" height="100" fill="#a19a92"/><polygon points="299.39,310.50 357.90,310.50 357.90,336.92 297.64,390.78" fill="#a9d0dd" stroke="#8db7ca" stroke-width="0.9"/><g clip-path="url(#pr5)"><circle cx="311" cy="329" r="12" fill="#c8b8d3" opacity="1" filter="url(#blr)"/></g><line x1="306" y1="310.5" x2="303.7" y2="378.3" stroke="#f4efa6" stroke-width="1.6"/><line x1="315.2" y1="310.5" x2="313" y2="369" stroke="#f4efa6" stroke-width="1.6"/><line x1="323.6" y1="310.5" x2="322.5" y2="360.2" stroke="#f4efa6" stroke-width="1.6"/><line x1="333" y1="310.5" x2="332.4" y2="351.4" stroke="#f4efa6" stroke-width="1.6"/><line x1="341.9" y1="310.5" x2="341.2" y2="343" stroke="#f4efa6" stroke-width="1.6"/><circle cx="303.7" cy="378.3" r="3.6" fill="#2b3236" stroke="#56625f" stroke-width="0.6"/><circle cx="313" cy="369" r="3.7" fill="#2b3236" stroke="#56625f" stroke-width="0.6"/><circle cx="322.5" cy="360.2" r="3.7" fill="#2b3236" stroke="#56625f" stroke-width="0.6"/><circle cx="332.4" cy="351.4" r="3.7" fill="#2b3236" stroke="#56625f" stroke-width="0.6"/><circle cx="341.2" cy="343" r="3.0" fill="#f8f6e4" stroke="#56625f" stroke-width="0.6"/></g></g>
</svg></body></html>
